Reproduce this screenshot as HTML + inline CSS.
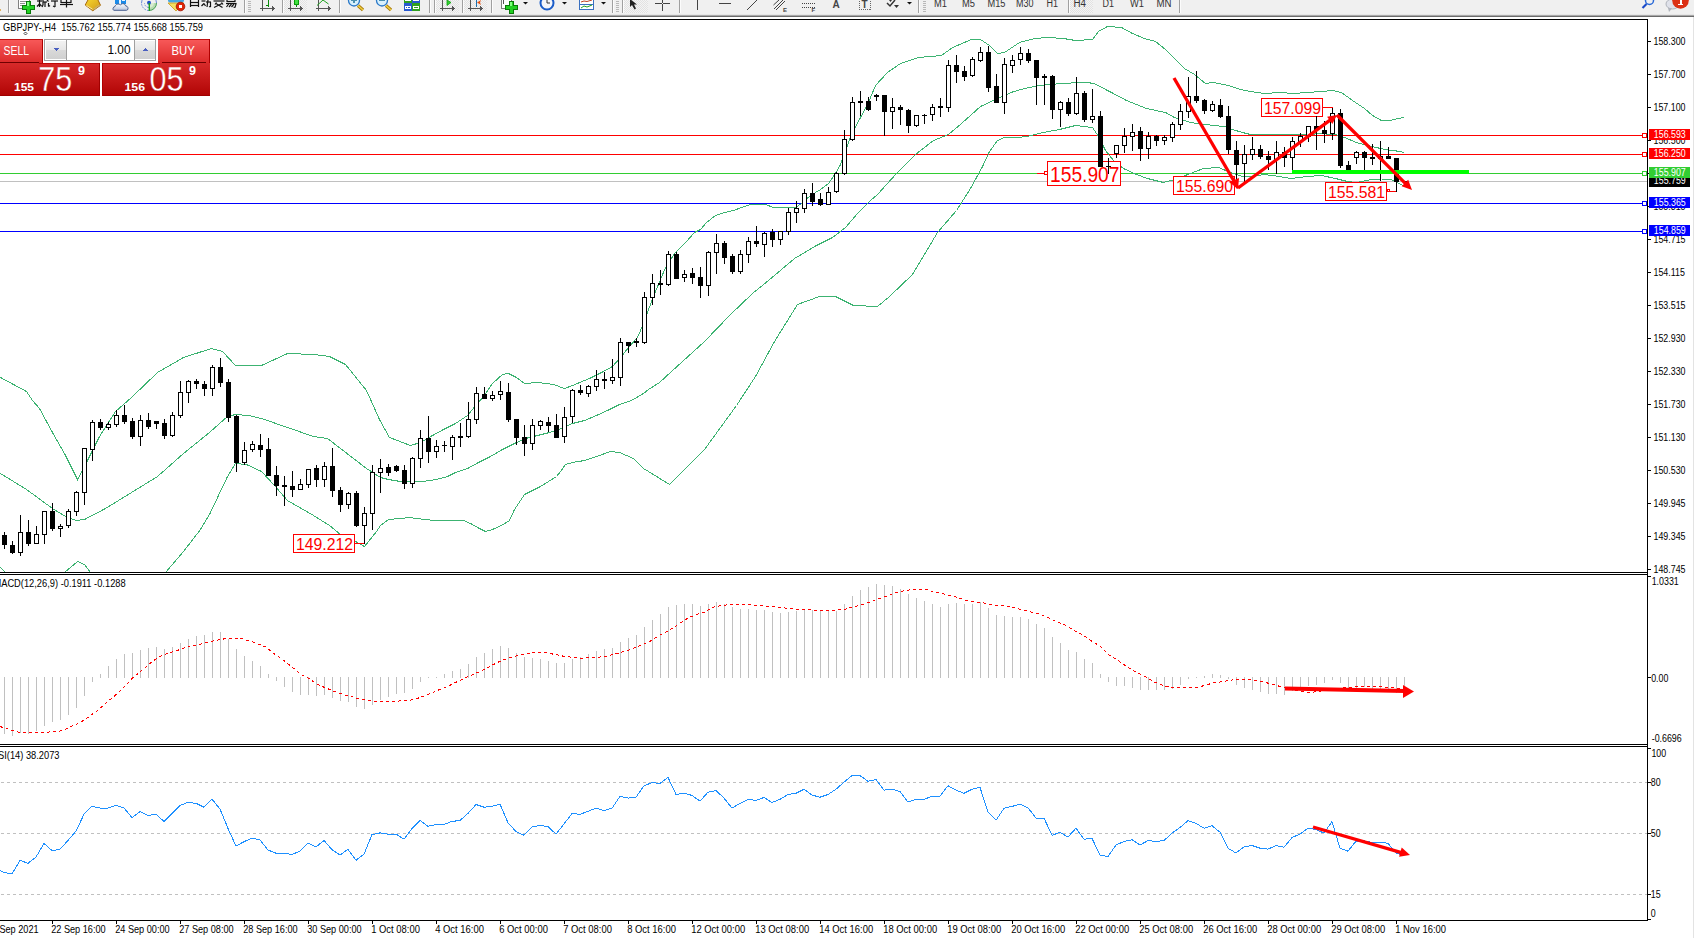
<!DOCTYPE html>
<html><head><meta charset="utf-8"><title>GBPJPY H4</title>
<style>
html,body{margin:0;padding:0;background:#fff;width:1694px;height:938px;overflow:hidden}
svg{position:absolute;left:0;top:0;font-family:"Liberation Sans",sans-serif}
</style></head><body>
<svg width="1694" height="938" viewBox="0 0 1694 938" shape-rendering="crispEdges">

<defs>
<linearGradient id="gTop" x1="0" y1="0" x2="0" y2="1"><stop offset="0" stop-color="#f85a5a"/><stop offset="1" stop-color="#dc2a2a"/></linearGradient>
<linearGradient id="gBot" x1="0" y1="0" x2="0" y2="1"><stop offset="0" stop-color="#d82a2a"/><stop offset="1" stop-color="#b00404"/></linearGradient>
<linearGradient id="gBtn" x1="0" y1="0" x2="0" y2="1"><stop offset="0" stop-color="#f2f2f2"/><stop offset="0.5" stop-color="#e6e6e6"/><stop offset="0.5" stop-color="#d9d9d9"/><stop offset="1" stop-color="#d0d0d0"/></linearGradient>
<linearGradient id="gBotU" gradientUnits="userSpaceOnUse" x1="0" y1="63" x2="0" y2="96"><stop offset="0" stop-color="#d82a2a"/><stop offset="1" stop-color="#b00404"/></linearGradient>
<clipPath id="mainclip"><rect x="0" y="20" width="1647" height="552"/></clipPath>
</defs>
<g>
<rect x="0" y="39" width="43" height="24" fill="url(#gTop)"/>
<rect x="42" y="39" width="1" height="24" fill="#b00000"/>
<rect x="0" y="39" width="43" height="1" fill="#c01010"/>
<rect x="0" y="62" width="39" height="1" fill="#700000"/>
<rect x="0" y="63" width="100" height="33" fill="url(#gBot)"/>
<rect x="39" y="63" width="61" height="1" fill="#c00808"/>
<rect x="0" y="95" width="100" height="1" fill="#a00000"/>
<rect x="99" y="63" width="1" height="33" fill="#a00000"/>
<rect x="158" y="39" width="52" height="24" fill="url(#gTop)"/>
<rect x="158" y="39" width="52" height="1" fill="#c01010"/>
<rect x="209" y="39" width="1" height="57" fill="#b00000"/>
<rect x="162" y="62" width="44" height="1" fill="#700000"/>
<rect x="102" y="63" width="108" height="33" fill="url(#gBot)"/>
<rect x="102" y="63" width="58" height="1" fill="#c00808"/>
<rect x="102" y="95" width="108" height="1" fill="#a00000"/>
<rect x="102" y="63" width="1" height="33" fill="#b00000"/>
<rect x="44.5" y="39.5" width="111" height="21" fill="#fff" stroke="#a0a0a0"/>
<rect x="46" y="41" width="20" height="18" fill="url(#gBtn)"/>
<rect x="66" y="40" width="1" height="20" fill="#a0a0a0"/>
<rect x="134" y="40" width="1" height="20" fill="#a0a0a0"/>
<rect x="135" y="41" width="20" height="18" fill="url(#gBtn)"/>
<polygon points="53,48 59,48 56,51" fill="#4a5fc0"/>
<polygon points="142,51 148,51 145,48" fill="#4a5fc0"/>
</g>
<text x="3.5" y="55" font-size="12.2" fill="#fff" textLength="25.50" lengthAdjust="spacingAndGlyphs">SELL</text><text x="171.5" y="55" font-size="12.2" fill="#fff" textLength="23.30" lengthAdjust="spacingAndGlyphs">BUY</text><text x="107.5" y="54" font-size="12" fill="#000" textLength="23.00" lengthAdjust="spacingAndGlyphs">1.00</text><text x="14" y="90.5" font-size="11.5" fill="#fff" font-weight="bold" textLength="20.00" lengthAdjust="spacingAndGlyphs">155</text><text x="124.5" y="90.5" font-size="11.5" fill="#fff" font-weight="bold" textLength="20.50" lengthAdjust="spacingAndGlyphs">156</text><text x="38.3" y="90.7" font-size="34.5" fill="#fff" textLength="34.00" lengthAdjust="spacingAndGlyphs" stroke="url(#gBotU)" stroke-width="0.38" shape-rendering="auto">75</text><text x="149.6" y="90.7" font-size="34.5" fill="#fff" textLength="34.00" lengthAdjust="spacingAndGlyphs" stroke="url(#gBotU)" stroke-width="0.38" shape-rendering="auto">05</text><text x="78" y="75" font-size="12" fill="#fff" font-weight="bold" textLength="7.00" lengthAdjust="spacingAndGlyphs">9</text><text x="189" y="75" font-size="12" fill="#fff" font-weight="bold" textLength="7.00" lengthAdjust="spacingAndGlyphs">9</text>
<rect x="0" y="135" width="1647" height="1" fill="#ff0000"/>
<rect x="0" y="154" width="1647" height="1" fill="#ff0000"/>
<rect x="0" y="173" width="1647" height="1" fill="#32cd32"/>
<rect x="0" y="181" width="1647" height="1" fill="#c0c0c0"/>
<rect x="0" y="203" width="1647" height="1" fill="#0000ff"/>
<rect x="0" y="231" width="1647" height="1" fill="#0000ff"/>
<rect x="1642.5" y="133.5" width="4" height="4" fill="#fff" stroke="#ff0000" stroke-width="1"/>
<rect x="1642.5" y="152.5" width="4" height="4" fill="#fff" stroke="#ff0000" stroke-width="1"/>
<rect x="1642.5" y="171.5" width="4" height="4" fill="#fff" stroke="#32cd32" stroke-width="1"/>
<rect x="1642.5" y="201.5" width="4" height="4" fill="#fff" stroke="#0000ff" stroke-width="1"/>
<rect x="1642.5" y="229.5" width="4" height="4" fill="#fff" stroke="#0000ff" stroke-width="1"/>
<g clip-path="url(#mainclip)">
<polyline points="0.5,377.5 26.5,391.5 32.5,400.5 39.5,408.5 52.5,432.5 65.5,455.5 77.5,479.5 84.5,466.5 99.5,436.5 115.5,411.5 131.5,397.5 157.5,372.5 183.5,357.5 211.5,348.5 222.5,351.5 235.5,365.5 261.5,365.5 287.5,353.5 313.5,354.5 329.5,356.5 345.5,364.5 366.5,390.5 379.5,419.5 389.5,437.5 410.5,445.5 420.5,442.5 432.5,435.5 443.5,429.5 455.5,423.5 467.5,415.5 476.5,404.5 483.5,396.5 492.5,383.5 502.5,374.5 508.5,373.5 516.5,377.5 524.5,383.5 537.5,382.5 553.5,384.5 564.5,388.5 572.5,385.5 589.5,378.5 603.5,371.5 612.5,366.5 620.5,357.5 628.5,347.5 637.5,337.5 643.5,323.5 648.5,309.5 655.5,291.5 665.5,267.5 674.5,253.5 685.5,242.5 694.5,232.5 700.5,229.5 706.5,222.5 715.5,215.5 724.5,212.5 733.5,210.5 741.5,207.5 750.5,204.5 765.5,204.5 773.5,207.5 783.5,207.5 795.5,207.5 801.5,203.5 810.5,195.5 820.5,189.5 828.5,183.5 835.5,173.5 840.5,164.5 851.5,134.5 868.5,102.5 875.5,85.5 887.5,72.5 900.5,63.5 918.5,57.5 941.5,55.5 952.5,47.5 971.5,39.5 980.5,39.5 989.5,45.5 997.5,53.5 1004.5,52.5 1019.5,42.5 1034.5,38.5 1048.5,37.5 1063.5,38.5 1075.5,40.5 1092.5,39.5 1098.5,31.5 1107.5,26.5 1121.5,27.5 1132.5,33.5 1144.5,38.5 1155.5,41.5 1165.5,49.5 1174.5,58.5 1184.5,68.5 1194.5,74.5 1205.5,83.5 1213.5,82.5 1228.5,85.5 1240.5,89.5 1250.5,91.5 1264.5,93.5 1279.5,92.5 1293.5,93.5 1307.5,92.5 1321.5,91.5 1332.5,90.5 1341.5,92.5 1352.5,100.5 1364.5,108.5 1372.5,115.5 1381.5,120.5 1389.5,120.5 1398.5,118.5 1404.5,117.5" fill="none" stroke="#3cb371" stroke-width="1"/>
<polyline points="0.5,473.5 26.5,489.5 52.5,508.5 65.5,516.5 76.5,520.5 84.5,519.5 105.5,508.5 131.5,492.5 157.5,476.5 183.5,453.5 209.5,432.5 227.5,416.5 235.5,414.5 248.5,415.5 261.5,418.5 287.5,427.5 313.5,436.5 327.5,438.5 340.5,448.5 366.5,468.5 380.5,477.5 388.5,479.5 400.5,481.5 409.5,481.5 422.5,481.5 436.5,479.5 447.5,476.5 455.5,472.5 467.5,468.5 478.5,462.5 490.5,456.5 502.5,449.5 514.5,443.5 525.5,438.5 537.5,435.5 549.5,432.5 561.5,428.5 572.5,423.5 584.5,420.5 596.5,415.5 607.5,410.5 619.5,404.5 631.5,400.5 643.5,393.5 648.5,389.5 659.5,382.5 682.5,361.5 704.5,341.5 730.5,314.5 752.5,293.5 768.5,280.5 794.5,258.5 816.5,245.5 832.5,237.5 845.5,227.5 857.5,213.5 870.5,200.5 877.5,194.5 896.5,173.5 915.5,154.5 933.5,140.5 948.5,134.5 961.5,123.5 980.5,106.5 999.5,97.5 1012.5,92 1024.5,88.5 1036,86.1 1047.5,84.5 1059.5,83.8 1077,82.6 1088.5,82.6 1094.5,83.8 1110.5,92 1126.5,100.5 1146.5,108.5 1165.5,112.5 1174.5,117.5 1190.5,122.5 1213.5,125.5 1224.5,126.5 1232.5,129.5 1242.5,132.5 1250.5,134.5 1264.5,134.5 1281.5,134.5 1300.5,134.5 1321.5,133.8 1335.5,134.5 1344.5,137.5 1356.5,142.5 1371.5,146.5 1385.5,149.5 1396.5,151 1404.5,152.5" fill="none" stroke="#3cb371" stroke-width="1"/>
<polyline points="0.5,567.5 5.5,572.5" fill="none" stroke="#3cb371" stroke-width="1"/>
<polyline points="64.5,572.5 77.5,561.5 84.5,564.5 90.5,572.5" fill="none" stroke="#3cb371" stroke-width="1"/>
<polyline points="165.5,572.5 183.5,551.5 200.5,529.5 209.5,514.5 227.5,476.5 235.5,463.5 246.5,464.5 261.5,471.5 274.5,485.5 287.5,500.5 313.5,515.5 329.5,525.5 340.5,534.5 355.5,541.5 364.5,546.5 376.5,531.5 380.5,525.5 388.5,519.5 400.5,518.5 409.5,517.5 416.5,518.5 425.5,519.5 434.5,520.5 463.5,520.5 470.5,523.5 479.5,528.5 485.5,531.5 492.5,529.5 501.5,525.5 509.5,520.5 514.5,509.5 524.5,494.5 540.5,486.5 548.5,481.5 556.5,476.5 560.5,471.5 565.5,464.5 572.5,462.5 584.5,460.5 596.5,456.5 610.5,451.5 619.5,452.5 633.5,458.5 643.5,468.5 648.5,471.5 669.5,484.5 704.5,449.5 736.5,405.5 755.5,376.5 774.5,341.5 797.5,304.5 819.5,296.5 835.5,296.5 853.5,305.5 877.5,306.5 889.5,296.5 912.5,274.5 937.5,232.5 956.5,210.5 970.5,188.5 982.5,166.5 989.5,151.5 997.5,140.5 1004.5,137.5 1017.5,137.5 1027.5,136.5 1038.5,133.5 1048.5,131.5 1059.5,129.5 1075.5,125.5 1092.5,127.5 1098.5,136.5 1105.5,150.5 1113.5,160.5 1123.5,168.5 1136.5,174.5 1147.5,178.5 1163.5,182.5 1174.5,179.5 1190.5,173.5 1203.5,168.5 1218.5,167.5 1230.5,172.5 1242.5,176.5 1250.5,176.5 1264.5,174.5 1279.5,176.5 1290.5,178.5 1307.5,176.5 1321.5,175.5 1335.5,178.5 1347.5,181.5 1356.5,182.5 1371.5,179.5 1381.5,179 1389.5,179 1393.5,180.5 1397.5,182.8 1401,184.5 1404.5,186" fill="none" stroke="#3cb371" stroke-width="1"/>
</g>
<rect x="1037" y="173" width="7" height="1" fill="#ff0000"/>
<rect x="1044.5" y="171.5" width="3" height="3" fill="#fff" stroke="#ff0000"/>
<rect x="1047.5" y="161.5" width="73" height="24" fill="#fff" stroke="#ff0000" stroke-width="1"/>
<text x="1050" y="182" font-size="22" fill="#ff0000" textLength="69.50" lengthAdjust="spacingAndGlyphs">155.907</text>
<rect x="293.5" y="534.5" width="61" height="18" fill="#fff" stroke="#ff0000" stroke-width="1"/>
<text x="296" y="550" font-size="17" fill="#ff0000" textLength="57.00" lengthAdjust="spacingAndGlyphs">149.212</text>
<rect x="355" y="543" width="9" height="1" fill="#ff0000"/>
<rect x="1261.5" y="98.5" width="61" height="18" fill="#fff" stroke="#ff0000" stroke-width="1"/>
<text x="1264" y="114" font-size="17" fill="#ff0000" textLength="57.00" lengthAdjust="spacingAndGlyphs">157.099</text>
<rect x="1323" y="107" width="10" height="1" fill="#ff0000"/>
<rect x="1332" y="107" width="1" height="2" fill="#ff0000"/>
<rect x="1173.5" y="176.5" width="61" height="18" fill="#fff" stroke="#ff0000" stroke-width="1"/>
<text x="1176" y="192" font-size="17" fill="#ff0000" textLength="57.00" lengthAdjust="spacingAndGlyphs">155.690</text>
<rect x="1325.5" y="182.5" width="61" height="18" fill="#fff" stroke="#ff0000" stroke-width="1"/>
<text x="1328" y="198" font-size="17" fill="#ff0000" textLength="57.00" lengthAdjust="spacingAndGlyphs">155.581</text>
<rect x="1387.5" y="189.5" width="2" height="2" fill="#fff" stroke="#ff0000"/>
<rect x="1390" y="191" width="7" height="1" fill="#ff0000"/>
<rect x="4" y="532" width="1" height="17" fill="#000"/>
<rect x="2" y="535" width="5" height="10" fill="#000"/>
<rect x="12" y="541" width="1" height="13" fill="#000"/>
<rect x="10" y="545" width="5" height="8" fill="#000"/>
<rect x="20" y="515" width="1" height="41" fill="#000"/>
<rect x="18" y="532" width="5" height="21" fill="#000"/>
<rect x="19" y="533" width="3" height="19" fill="#fff"/>
<rect x="28" y="520" width="1" height="26" fill="#000"/>
<rect x="26" y="532" width="5" height="12" fill="#000"/>
<rect x="36" y="526" width="1" height="18" fill="#000"/>
<rect x="34" y="534" width="5" height="10" fill="#000"/>
<rect x="35" y="535" width="3" height="8" fill="#fff"/>
<rect x="44" y="511" width="1" height="33" fill="#000"/>
<rect x="42" y="511" width="5" height="24" fill="#000"/>
<rect x="43" y="512" width="3" height="22" fill="#fff"/>
<rect x="52" y="503" width="1" height="28" fill="#000"/>
<rect x="50" y="511" width="5" height="18" fill="#000"/>
<rect x="60" y="524" width="1" height="13" fill="#000"/>
<rect x="58" y="526" width="5" height="3" fill="#000"/>
<rect x="59" y="527" width="3" height="1" fill="#fff"/>
<rect x="68" y="509" width="1" height="19" fill="#000"/>
<rect x="66" y="511" width="5" height="15" fill="#000"/>
<rect x="67" y="512" width="3" height="13" fill="#fff"/>
<rect x="76" y="491" width="1" height="25" fill="#000"/>
<rect x="74" y="492" width="5" height="20" fill="#000"/>
<rect x="75" y="493" width="3" height="18" fill="#fff"/>
<rect x="84" y="448" width="1" height="57" fill="#000"/>
<rect x="82" y="448" width="5" height="45" fill="#000"/>
<rect x="83" y="449" width="3" height="43" fill="#fff"/>
<rect x="92" y="420" width="1" height="41" fill="#000"/>
<rect x="90" y="422" width="5" height="28" fill="#000"/>
<rect x="91" y="423" width="3" height="26" fill="#fff"/>
<rect x="100" y="419" width="1" height="11" fill="#000"/>
<rect x="98" y="422" width="5" height="6" fill="#000"/>
<rect x="108" y="422" width="1" height="8" fill="#000"/>
<rect x="106" y="424" width="5" height="4" fill="#000"/>
<rect x="107" y="425" width="3" height="2" fill="#fff"/>
<rect x="116" y="410" width="1" height="17" fill="#000"/>
<rect x="114" y="415" width="5" height="10" fill="#000"/>
<rect x="115" y="416" width="3" height="8" fill="#fff"/>
<rect x="124" y="405" width="1" height="19" fill="#000"/>
<rect x="122" y="415" width="5" height="7" fill="#000"/>
<rect x="132" y="418" width="1" height="21" fill="#000"/>
<rect x="130" y="421" width="5" height="16" fill="#000"/>
<rect x="140" y="415" width="1" height="31" fill="#000"/>
<rect x="138" y="420" width="5" height="17" fill="#000"/>
<rect x="139" y="421" width="3" height="15" fill="#fff"/>
<rect x="148" y="413" width="1" height="16" fill="#000"/>
<rect x="146" y="420" width="5" height="7" fill="#000"/>
<rect x="156" y="421" width="1" height="8" fill="#000"/>
<rect x="154" y="421" width="5" height="3" fill="#000"/>
<rect x="164" y="419" width="1" height="20" fill="#000"/>
<rect x="162" y="423" width="5" height="13" fill="#000"/>
<rect x="172" y="412" width="1" height="25" fill="#000"/>
<rect x="170" y="415" width="5" height="21" fill="#000"/>
<rect x="171" y="416" width="3" height="19" fill="#fff"/>
<rect x="180" y="381" width="1" height="37" fill="#000"/>
<rect x="178" y="392" width="5" height="24" fill="#000"/>
<rect x="179" y="393" width="3" height="22" fill="#fff"/>
<rect x="188" y="380" width="1" height="23" fill="#000"/>
<rect x="186" y="381" width="5" height="12" fill="#000"/>
<rect x="187" y="382" width="3" height="10" fill="#fff"/>
<rect x="196" y="379" width="1" height="10" fill="#000"/>
<rect x="194" y="381" width="5" height="3" fill="#000"/>
<rect x="204" y="381" width="1" height="15" fill="#000"/>
<rect x="202" y="384" width="5" height="5" fill="#000"/>
<rect x="212" y="365" width="1" height="31" fill="#000"/>
<rect x="210" y="367" width="5" height="22" fill="#000"/>
<rect x="211" y="368" width="3" height="20" fill="#fff"/>
<rect x="220" y="358" width="1" height="29" fill="#000"/>
<rect x="218" y="367" width="5" height="16" fill="#000"/>
<rect x="228" y="379" width="1" height="43" fill="#000"/>
<rect x="226" y="382" width="5" height="36" fill="#000"/>
<rect x="236" y="415" width="1" height="57" fill="#000"/>
<rect x="234" y="416" width="5" height="47" fill="#000"/>
<rect x="244" y="442" width="1" height="23" fill="#000"/>
<rect x="242" y="450" width="5" height="13" fill="#000"/>
<rect x="243" y="451" width="3" height="11" fill="#fff"/>
<rect x="252" y="441" width="1" height="11" fill="#000"/>
<rect x="250" y="444" width="5" height="6" fill="#000"/>
<rect x="251" y="445" width="3" height="4" fill="#fff"/>
<rect x="260" y="434" width="1" height="23" fill="#000"/>
<rect x="258" y="445" width="5" height="5" fill="#000"/>
<rect x="268" y="438" width="1" height="38" fill="#000"/>
<rect x="266" y="449" width="5" height="27" fill="#000"/>
<rect x="276" y="466" width="1" height="30" fill="#000"/>
<rect x="274" y="475" width="5" height="11" fill="#000"/>
<rect x="284" y="476" width="1" height="30" fill="#000"/>
<rect x="282" y="485" width="5" height="2" fill="#000"/>
<rect x="292" y="471" width="1" height="26" fill="#000"/>
<rect x="290" y="486" width="5" height="4" fill="#000"/>
<rect x="300" y="479" width="1" height="11" fill="#000"/>
<rect x="298" y="484" width="5" height="6" fill="#000"/>
<rect x="299" y="485" width="3" height="4" fill="#fff"/>
<rect x="308" y="469" width="1" height="19" fill="#000"/>
<rect x="306" y="469" width="5" height="16" fill="#000"/>
<rect x="307" y="470" width="3" height="14" fill="#fff"/>
<rect x="316" y="465" width="1" height="22" fill="#000"/>
<rect x="314" y="468" width="5" height="12" fill="#000"/>
<rect x="324" y="462" width="1" height="25" fill="#000"/>
<rect x="322" y="466" width="5" height="14" fill="#000"/>
<rect x="323" y="467" width="3" height="12" fill="#fff"/>
<rect x="332" y="448" width="1" height="49" fill="#000"/>
<rect x="330" y="466" width="5" height="25" fill="#000"/>
<rect x="340" y="487" width="1" height="25" fill="#000"/>
<rect x="338" y="490" width="5" height="15" fill="#000"/>
<rect x="348" y="492" width="1" height="17" fill="#000"/>
<rect x="346" y="493" width="5" height="12" fill="#000"/>
<rect x="347" y="494" width="3" height="10" fill="#fff"/>
<rect x="356" y="491" width="1" height="36" fill="#000"/>
<rect x="354" y="493" width="5" height="33" fill="#000"/>
<rect x="364" y="507" width="1" height="37" fill="#000"/>
<rect x="362" y="513" width="5" height="13" fill="#000"/>
<rect x="363" y="514" width="3" height="11" fill="#fff"/>
<rect x="372" y="465" width="1" height="65" fill="#000"/>
<rect x="370" y="472" width="5" height="42" fill="#000"/>
<rect x="371" y="473" width="3" height="40" fill="#fff"/>
<rect x="380" y="459" width="1" height="34" fill="#000"/>
<rect x="378" y="468" width="5" height="5" fill="#000"/>
<rect x="379" y="469" width="3" height="3" fill="#fff"/>
<rect x="388" y="464" width="1" height="12" fill="#000"/>
<rect x="386" y="467" width="5" height="6" fill="#000"/>
<rect x="396" y="465" width="1" height="7" fill="#000"/>
<rect x="394" y="466" width="5" height="5" fill="#000"/>
<rect x="404" y="465" width="1" height="24" fill="#000"/>
<rect x="402" y="470" width="5" height="14" fill="#000"/>
<rect x="412" y="457" width="1" height="31" fill="#000"/>
<rect x="410" y="458" width="5" height="26" fill="#000"/>
<rect x="411" y="459" width="3" height="24" fill="#fff"/>
<rect x="420" y="430" width="1" height="38" fill="#000"/>
<rect x="418" y="438" width="5" height="21" fill="#000"/>
<rect x="419" y="439" width="3" height="19" fill="#fff"/>
<rect x="428" y="416" width="1" height="47" fill="#000"/>
<rect x="426" y="438" width="5" height="14" fill="#000"/>
<rect x="436" y="440" width="1" height="18" fill="#000"/>
<rect x="434" y="446" width="5" height="6" fill="#000"/>
<rect x="435" y="447" width="3" height="4" fill="#fff"/>
<rect x="444" y="441" width="1" height="11" fill="#000"/>
<rect x="442" y="445" width="5" height="1" fill="#000"/>
<rect x="452" y="435" width="1" height="25" fill="#000"/>
<rect x="450" y="437" width="5" height="10" fill="#000"/>
<rect x="451" y="438" width="3" height="8" fill="#fff"/>
<rect x="460" y="423" width="1" height="24" fill="#000"/>
<rect x="458" y="436" width="5" height="2" fill="#000"/>
<rect x="468" y="402" width="1" height="36" fill="#000"/>
<rect x="466" y="419" width="5" height="18" fill="#000"/>
<rect x="467" y="420" width="3" height="16" fill="#fff"/>
<rect x="476" y="387" width="1" height="37" fill="#000"/>
<rect x="474" y="393" width="5" height="27" fill="#000"/>
<rect x="475" y="394" width="3" height="25" fill="#fff"/>
<rect x="484" y="387" width="1" height="12" fill="#000"/>
<rect x="482" y="394" width="5" height="5" fill="#000"/>
<rect x="492" y="391" width="1" height="10" fill="#000"/>
<rect x="490" y="395" width="5" height="4" fill="#000"/>
<rect x="491" y="396" width="3" height="2" fill="#fff"/>
<rect x="500" y="381" width="1" height="19" fill="#000"/>
<rect x="498" y="391" width="5" height="4" fill="#000"/>
<rect x="499" y="392" width="3" height="2" fill="#fff"/>
<rect x="508" y="383" width="1" height="39" fill="#000"/>
<rect x="506" y="392" width="5" height="28" fill="#000"/>
<rect x="516" y="419" width="1" height="26" fill="#000"/>
<rect x="514" y="419" width="5" height="19" fill="#000"/>
<rect x="524" y="425" width="1" height="31" fill="#000"/>
<rect x="522" y="437" width="5" height="7" fill="#000"/>
<rect x="532" y="419" width="1" height="31" fill="#000"/>
<rect x="530" y="425" width="5" height="19" fill="#000"/>
<rect x="531" y="426" width="3" height="17" fill="#fff"/>
<rect x="540" y="420" width="1" height="10" fill="#000"/>
<rect x="538" y="421" width="5" height="5" fill="#000"/>
<rect x="539" y="422" width="3" height="3" fill="#fff"/>
<rect x="548" y="417" width="1" height="15" fill="#000"/>
<rect x="546" y="422" width="5" height="4" fill="#000"/>
<rect x="556" y="414" width="1" height="24" fill="#000"/>
<rect x="554" y="425" width="5" height="13" fill="#000"/>
<rect x="564" y="407" width="1" height="36" fill="#000"/>
<rect x="562" y="417" width="5" height="20" fill="#000"/>
<rect x="563" y="418" width="3" height="18" fill="#fff"/>
<rect x="572" y="389" width="1" height="34" fill="#000"/>
<rect x="570" y="390" width="5" height="27" fill="#000"/>
<rect x="571" y="391" width="3" height="25" fill="#fff"/>
<rect x="580" y="385" width="1" height="10" fill="#000"/>
<rect x="578" y="390" width="5" height="3" fill="#000"/>
<rect x="588" y="385" width="1" height="12" fill="#000"/>
<rect x="586" y="386" width="5" height="8" fill="#000"/>
<rect x="587" y="387" width="3" height="6" fill="#fff"/>
<rect x="596" y="370" width="1" height="21" fill="#000"/>
<rect x="594" y="379" width="5" height="8" fill="#000"/>
<rect x="595" y="380" width="3" height="6" fill="#fff"/>
<rect x="604" y="372" width="1" height="17" fill="#000"/>
<rect x="602" y="379" width="5" height="2" fill="#000"/>
<rect x="612" y="359" width="1" height="25" fill="#000"/>
<rect x="610" y="377" width="5" height="4" fill="#000"/>
<rect x="611" y="378" width="3" height="2" fill="#fff"/>
<rect x="620" y="338" width="1" height="48" fill="#000"/>
<rect x="618" y="342" width="5" height="36" fill="#000"/>
<rect x="619" y="343" width="3" height="34" fill="#fff"/>
<rect x="628" y="342" width="1" height="11" fill="#000"/>
<rect x="626" y="342" width="5" height="4" fill="#000"/>
<rect x="636" y="338" width="1" height="9" fill="#000"/>
<rect x="634" y="341" width="5" height="2" fill="#000"/>
<rect x="644" y="292" width="1" height="52" fill="#000"/>
<rect x="642" y="297" width="5" height="46" fill="#000"/>
<rect x="643" y="298" width="3" height="44" fill="#fff"/>
<rect x="652" y="274" width="1" height="31" fill="#000"/>
<rect x="650" y="283" width="5" height="15" fill="#000"/>
<rect x="651" y="284" width="3" height="13" fill="#fff"/>
<rect x="660" y="270" width="1" height="25" fill="#000"/>
<rect x="658" y="283" width="5" height="2" fill="#000"/>
<rect x="668" y="251" width="1" height="35" fill="#000"/>
<rect x="666" y="254" width="5" height="31" fill="#000"/>
<rect x="667" y="255" width="3" height="29" fill="#fff"/>
<rect x="676" y="252" width="1" height="27" fill="#000"/>
<rect x="674" y="254" width="5" height="25" fill="#000"/>
<rect x="684" y="270" width="1" height="12" fill="#000"/>
<rect x="682" y="274" width="5" height="4" fill="#000"/>
<rect x="683" y="275" width="3" height="2" fill="#fff"/>
<rect x="692" y="268" width="1" height="16" fill="#000"/>
<rect x="690" y="273" width="5" height="5" fill="#000"/>
<rect x="700" y="267" width="1" height="31" fill="#000"/>
<rect x="698" y="277" width="5" height="9" fill="#000"/>
<rect x="708" y="251" width="1" height="45" fill="#000"/>
<rect x="706" y="252" width="5" height="34" fill="#000"/>
<rect x="707" y="253" width="3" height="32" fill="#fff"/>
<rect x="716" y="234" width="1" height="40" fill="#000"/>
<rect x="714" y="243" width="5" height="10" fill="#000"/>
<rect x="715" y="244" width="3" height="8" fill="#fff"/>
<rect x="724" y="241" width="1" height="23" fill="#000"/>
<rect x="722" y="243" width="5" height="15" fill="#000"/>
<rect x="732" y="254" width="1" height="20" fill="#000"/>
<rect x="730" y="256" width="5" height="16" fill="#000"/>
<rect x="740" y="250" width="1" height="24" fill="#000"/>
<rect x="738" y="254" width="5" height="18" fill="#000"/>
<rect x="739" y="255" width="3" height="16" fill="#fff"/>
<rect x="748" y="237" width="1" height="26" fill="#000"/>
<rect x="746" y="241" width="5" height="14" fill="#000"/>
<rect x="747" y="242" width="3" height="12" fill="#fff"/>
<rect x="756" y="226" width="1" height="21" fill="#000"/>
<rect x="754" y="241" width="5" height="3" fill="#000"/>
<rect x="764" y="232" width="1" height="25" fill="#000"/>
<rect x="762" y="233" width="5" height="12" fill="#000"/>
<rect x="763" y="234" width="3" height="10" fill="#fff"/>
<rect x="772" y="229" width="1" height="18" fill="#000"/>
<rect x="770" y="232" width="5" height="8" fill="#000"/>
<rect x="780" y="231" width="1" height="14" fill="#000"/>
<rect x="778" y="231" width="5" height="9" fill="#000"/>
<rect x="779" y="232" width="3" height="7" fill="#fff"/>
<rect x="788" y="208" width="1" height="27" fill="#000"/>
<rect x="786" y="212" width="5" height="20" fill="#000"/>
<rect x="787" y="213" width="3" height="18" fill="#fff"/>
<rect x="796" y="201" width="1" height="22" fill="#000"/>
<rect x="794" y="208" width="5" height="5" fill="#000"/>
<rect x="795" y="209" width="3" height="3" fill="#fff"/>
<rect x="804" y="189" width="1" height="24" fill="#000"/>
<rect x="802" y="193" width="5" height="16" fill="#000"/>
<rect x="803" y="194" width="3" height="14" fill="#fff"/>
<rect x="812" y="183" width="1" height="23" fill="#000"/>
<rect x="810" y="193" width="5" height="9" fill="#000"/>
<rect x="820" y="193" width="1" height="13" fill="#000"/>
<rect x="818" y="199" width="5" height="6" fill="#000"/>
<rect x="828" y="187" width="1" height="18" fill="#000"/>
<rect x="826" y="192" width="5" height="13" fill="#000"/>
<rect x="827" y="193" width="3" height="11" fill="#fff"/>
<rect x="836" y="172" width="1" height="21" fill="#000"/>
<rect x="834" y="173" width="5" height="19" fill="#000"/>
<rect x="835" y="174" width="3" height="17" fill="#fff"/>
<rect x="844" y="130" width="1" height="45" fill="#000"/>
<rect x="842" y="139" width="5" height="35" fill="#000"/>
<rect x="843" y="140" width="3" height="33" fill="#fff"/>
<rect x="852" y="97" width="1" height="44" fill="#000"/>
<rect x="850" y="102" width="5" height="38" fill="#000"/>
<rect x="851" y="103" width="3" height="36" fill="#fff"/>
<rect x="860" y="91" width="1" height="25" fill="#000"/>
<rect x="858" y="101" width="5" height="2" fill="#000"/>
<rect x="868" y="97" width="1" height="14" fill="#000"/>
<rect x="866" y="101" width="5" height="9" fill="#000"/>
<rect x="876" y="94" width="1" height="7" fill="#000"/>
<rect x="874" y="95" width="5" height="2" fill="#000"/>
<rect x="884" y="95" width="1" height="41" fill="#000"/>
<rect x="882" y="95" width="5" height="17" fill="#000"/>
<rect x="892" y="98" width="1" height="31" fill="#000"/>
<rect x="890" y="107" width="5" height="5" fill="#000"/>
<rect x="891" y="108" width="3" height="3" fill="#fff"/>
<rect x="900" y="105" width="1" height="20" fill="#000"/>
<rect x="898" y="107" width="5" height="3" fill="#000"/>
<rect x="908" y="109" width="1" height="24" fill="#000"/>
<rect x="906" y="110" width="5" height="16" fill="#000"/>
<rect x="916" y="115" width="1" height="12" fill="#000"/>
<rect x="914" y="115" width="5" height="11" fill="#000"/>
<rect x="915" y="116" width="3" height="9" fill="#fff"/>
<rect x="924" y="114" width="1" height="10" fill="#000"/>
<rect x="922" y="115" width="5" height="1" fill="#000"/>
<rect x="932" y="104" width="1" height="17" fill="#000"/>
<rect x="930" y="107" width="5" height="8" fill="#000"/>
<rect x="931" y="108" width="3" height="6" fill="#fff"/>
<rect x="940" y="98" width="1" height="19" fill="#000"/>
<rect x="938" y="106" width="5" height="2" fill="#000"/>
<rect x="948" y="60" width="1" height="52" fill="#000"/>
<rect x="946" y="65" width="5" height="43" fill="#000"/>
<rect x="947" y="66" width="3" height="41" fill="#fff"/>
<rect x="956" y="55" width="1" height="28" fill="#000"/>
<rect x="954" y="65" width="5" height="7" fill="#000"/>
<rect x="964" y="66" width="1" height="15" fill="#000"/>
<rect x="962" y="71" width="5" height="6" fill="#000"/>
<rect x="972" y="57" width="1" height="20" fill="#000"/>
<rect x="970" y="59" width="5" height="17" fill="#000"/>
<rect x="971" y="60" width="3" height="15" fill="#fff"/>
<rect x="980" y="47" width="1" height="15" fill="#000"/>
<rect x="978" y="52" width="5" height="9" fill="#000"/>
<rect x="979" y="53" width="3" height="7" fill="#fff"/>
<rect x="988" y="46" width="1" height="46" fill="#000"/>
<rect x="986" y="52" width="5" height="36" fill="#000"/>
<rect x="996" y="74" width="1" height="29" fill="#000"/>
<rect x="994" y="86" width="5" height="17" fill="#000"/>
<rect x="1004" y="58" width="1" height="56" fill="#000"/>
<rect x="1002" y="64" width="5" height="39" fill="#000"/>
<rect x="1003" y="65" width="3" height="37" fill="#fff"/>
<rect x="1012" y="55" width="1" height="18" fill="#000"/>
<rect x="1010" y="60" width="5" height="6" fill="#000"/>
<rect x="1011" y="61" width="3" height="4" fill="#fff"/>
<rect x="1020" y="47" width="1" height="18" fill="#000"/>
<rect x="1018" y="53" width="5" height="7" fill="#000"/>
<rect x="1019" y="54" width="3" height="5" fill="#fff"/>
<rect x="1028" y="49" width="1" height="14" fill="#000"/>
<rect x="1026" y="53" width="5" height="8" fill="#000"/>
<rect x="1036" y="60" width="1" height="45" fill="#000"/>
<rect x="1034" y="60" width="5" height="18" fill="#000"/>
<rect x="1044" y="74" width="1" height="31" fill="#000"/>
<rect x="1042" y="76" width="5" height="2" fill="#000"/>
<rect x="1052" y="75" width="1" height="44" fill="#000"/>
<rect x="1050" y="76" width="5" height="34" fill="#000"/>
<rect x="1060" y="101" width="1" height="26" fill="#000"/>
<rect x="1058" y="102" width="5" height="8" fill="#000"/>
<rect x="1059" y="103" width="3" height="6" fill="#fff"/>
<rect x="1068" y="98" width="1" height="18" fill="#000"/>
<rect x="1066" y="102" width="5" height="12" fill="#000"/>
<rect x="1076" y="77" width="1" height="38" fill="#000"/>
<rect x="1074" y="93" width="5" height="21" fill="#000"/>
<rect x="1075" y="94" width="3" height="19" fill="#fff"/>
<rect x="1084" y="91" width="1" height="31" fill="#000"/>
<rect x="1082" y="93" width="5" height="27" fill="#000"/>
<rect x="1092" y="89" width="1" height="34" fill="#000"/>
<rect x="1090" y="116" width="5" height="4" fill="#000"/>
<rect x="1091" y="117" width="3" height="2" fill="#fff"/>
<rect x="1100" y="111" width="1" height="56" fill="#000"/>
<rect x="1098" y="116" width="5" height="51" fill="#000"/>
<rect x="1108" y="158" width="1" height="16" fill="#000"/>
<rect x="1106" y="166" width="5" height="1" fill="#000"/>
<rect x="1116" y="145" width="1" height="13" fill="#000"/>
<rect x="1114" y="145" width="5" height="9" fill="#000"/>
<rect x="1115" y="146" width="3" height="7" fill="#fff"/>
<rect x="1124" y="128" width="1" height="25" fill="#000"/>
<rect x="1122" y="136" width="5" height="10" fill="#000"/>
<rect x="1123" y="137" width="3" height="8" fill="#fff"/>
<rect x="1132" y="124" width="1" height="27" fill="#000"/>
<rect x="1130" y="132" width="5" height="5" fill="#000"/>
<rect x="1131" y="133" width="3" height="3" fill="#fff"/>
<rect x="1140" y="127" width="1" height="34" fill="#000"/>
<rect x="1138" y="131" width="5" height="18" fill="#000"/>
<rect x="1148" y="132" width="1" height="27" fill="#000"/>
<rect x="1146" y="136" width="5" height="13" fill="#000"/>
<rect x="1147" y="137" width="3" height="11" fill="#fff"/>
<rect x="1156" y="135" width="1" height="11" fill="#000"/>
<rect x="1154" y="136" width="5" height="5" fill="#000"/>
<rect x="1164" y="135" width="1" height="10" fill="#000"/>
<rect x="1162" y="137" width="5" height="4" fill="#000"/>
<rect x="1163" y="138" width="3" height="2" fill="#fff"/>
<rect x="1172" y="122" width="1" height="20" fill="#000"/>
<rect x="1170" y="124" width="5" height="14" fill="#000"/>
<rect x="1171" y="125" width="3" height="12" fill="#fff"/>
<rect x="1180" y="104" width="1" height="26" fill="#000"/>
<rect x="1178" y="111" width="5" height="14" fill="#000"/>
<rect x="1179" y="112" width="3" height="12" fill="#fff"/>
<rect x="1188" y="77" width="1" height="41" fill="#000"/>
<rect x="1186" y="96" width="5" height="16" fill="#000"/>
<rect x="1187" y="97" width="3" height="14" fill="#fff"/>
<rect x="1196" y="71" width="1" height="32" fill="#000"/>
<rect x="1194" y="96" width="5" height="5" fill="#000"/>
<rect x="1204" y="99" width="1" height="15" fill="#000"/>
<rect x="1202" y="100" width="5" height="11" fill="#000"/>
<rect x="1212" y="101" width="1" height="11" fill="#000"/>
<rect x="1210" y="104" width="5" height="7" fill="#000"/>
<rect x="1211" y="105" width="3" height="5" fill="#fff"/>
<rect x="1220" y="99" width="1" height="19" fill="#000"/>
<rect x="1218" y="105" width="5" height="12" fill="#000"/>
<rect x="1228" y="106" width="1" height="48" fill="#000"/>
<rect x="1226" y="116" width="5" height="34" fill="#000"/>
<rect x="1236" y="141" width="1" height="45" fill="#000"/>
<rect x="1234" y="150" width="5" height="15" fill="#000"/>
<rect x="1244" y="145" width="1" height="37" fill="#000"/>
<rect x="1242" y="154" width="5" height="10" fill="#000"/>
<rect x="1243" y="155" width="3" height="8" fill="#fff"/>
<rect x="1252" y="137" width="1" height="23" fill="#000"/>
<rect x="1250" y="149" width="5" height="6" fill="#000"/>
<rect x="1251" y="150" width="3" height="4" fill="#fff"/>
<rect x="1260" y="145" width="1" height="14" fill="#000"/>
<rect x="1258" y="149" width="5" height="8" fill="#000"/>
<rect x="1268" y="151" width="1" height="19" fill="#000"/>
<rect x="1266" y="156" width="5" height="4" fill="#000"/>
<rect x="1276" y="141" width="1" height="33" fill="#000"/>
<rect x="1274" y="152" width="5" height="8" fill="#000"/>
<rect x="1275" y="153" width="3" height="6" fill="#fff"/>
<rect x="1284" y="147" width="1" height="20" fill="#000"/>
<rect x="1282" y="152" width="5" height="6" fill="#000"/>
<rect x="1292" y="137" width="1" height="33" fill="#000"/>
<rect x="1290" y="141" width="5" height="17" fill="#000"/>
<rect x="1291" y="142" width="3" height="15" fill="#fff"/>
<rect x="1300" y="133" width="1" height="14" fill="#000"/>
<rect x="1298" y="136" width="5" height="6" fill="#000"/>
<rect x="1299" y="137" width="3" height="4" fill="#fff"/>
<rect x="1308" y="126" width="1" height="16" fill="#000"/>
<rect x="1306" y="126" width="5" height="11" fill="#000"/>
<rect x="1307" y="127" width="3" height="9" fill="#fff"/>
<rect x="1316" y="116" width="1" height="34" fill="#000"/>
<rect x="1314" y="126" width="5" height="4" fill="#000"/>
<rect x="1324" y="121" width="1" height="22" fill="#000"/>
<rect x="1322" y="130" width="5" height="4" fill="#000"/>
<rect x="1332" y="108" width="1" height="32" fill="#000"/>
<rect x="1330" y="113" width="5" height="21" fill="#000"/>
<rect x="1331" y="114" width="3" height="19" fill="#fff"/>
<rect x="1340" y="109" width="1" height="59" fill="#000"/>
<rect x="1338" y="113" width="5" height="53" fill="#000"/>
<rect x="1348" y="161" width="1" height="9" fill="#000"/>
<rect x="1346" y="165" width="5" height="5" fill="#000"/>
<rect x="1356" y="151" width="1" height="13" fill="#000"/>
<rect x="1354" y="152" width="5" height="6" fill="#000"/>
<rect x="1355" y="153" width="3" height="4" fill="#fff"/>
<rect x="1364" y="151" width="1" height="19" fill="#000"/>
<rect x="1362" y="152" width="5" height="6" fill="#000"/>
<rect x="1372" y="144" width="1" height="21" fill="#000"/>
<rect x="1370" y="157" width="5" height="2" fill="#000"/>
<rect x="1380" y="141" width="1" height="40" fill="#000"/>
<rect x="1378" y="156" width="5" height="3" fill="#000"/>
<rect x="1379" y="157" width="3" height="1" fill="#fff"/>
<rect x="1388" y="147" width="1" height="12" fill="#000"/>
<rect x="1386" y="156" width="5" height="3" fill="#000"/>
<rect x="1396" y="158" width="1" height="34" fill="#000"/>
<rect x="1394" y="158" width="5" height="24" fill="#000"/>
<rect x="1404" y="181" width="1" height="6" fill="#000"/>
<rect x="1402" y="181" width="5" height="1" fill="#000"/>
<rect x="1292" y="170" width="177" height="4" fill="#00ff00"/>
<g shape-rendering="auto">
<line x1="1174" y1="78" x2="1238" y2="188" stroke="#ff0000" stroke-width="3.3"/>
<polygon points="1238,189 1229,182 1239,178" fill="#ff0000"/>
<line x1="1238" y1="188" x2="1331.4" y2="119.2" stroke="#ff0000" stroke-width="3.3"/><polygon points="1337,115 1332.4,124.0 1327.1,116.7" fill="#ff0000"/>
<line x1="1337" y1="115" x2="1406.3" y2="184.3" stroke="#ff0000" stroke-width="3.3"/><polygon points="1412,190 1401.7,186.2 1408.2,179.7" fill="#ff0000"/>
</g>
<g>
<rect x="4" y="677" width="1" height="57" fill="#c0c0c0"/>
<rect x="12" y="677" width="1" height="59" fill="#c0c0c0"/>
<rect x="20" y="677" width="1" height="56" fill="#c0c0c0"/>
<rect x="28" y="677" width="1" height="57" fill="#c0c0c0"/>
<rect x="36" y="677" width="1" height="54" fill="#c0c0c0"/>
<rect x="44" y="677" width="1" height="49" fill="#c0c0c0"/>
<rect x="52" y="677" width="1" height="45" fill="#c0c0c0"/>
<rect x="60" y="677" width="1" height="43" fill="#c0c0c0"/>
<rect x="68" y="677" width="1" height="38" fill="#c0c0c0"/>
<rect x="76" y="677" width="1" height="31" fill="#c0c0c0"/>
<rect x="84" y="677" width="1" height="19" fill="#c0c0c0"/>
<rect x="92" y="677" width="1" height="5" fill="#c0c0c0"/>
<rect x="100" y="674" width="1" height="4" fill="#c0c0c0"/>
<rect x="108" y="666" width="1" height="12" fill="#c0c0c0"/>
<rect x="116" y="659" width="1" height="19" fill="#c0c0c0"/>
<rect x="124" y="654" width="1" height="24" fill="#c0c0c0"/>
<rect x="132" y="653" width="1" height="25" fill="#c0c0c0"/>
<rect x="140" y="650" width="1" height="28" fill="#c0c0c0"/>
<rect x="148" y="648" width="1" height="30" fill="#c0c0c0"/>
<rect x="156" y="647" width="1" height="31" fill="#c0c0c0"/>
<rect x="164" y="649" width="1" height="29" fill="#c0c0c0"/>
<rect x="172" y="647" width="1" height="31" fill="#c0c0c0"/>
<rect x="180" y="643" width="1" height="35" fill="#c0c0c0"/>
<rect x="188" y="639" width="1" height="39" fill="#c0c0c0"/>
<rect x="196" y="636" width="1" height="42" fill="#c0c0c0"/>
<rect x="204" y="635" width="1" height="43" fill="#c0c0c0"/>
<rect x="212" y="632" width="1" height="46" fill="#c0c0c0"/>
<rect x="220" y="632" width="1" height="46" fill="#c0c0c0"/>
<rect x="228" y="639" width="1" height="39" fill="#c0c0c0"/>
<rect x="236" y="649" width="1" height="29" fill="#c0c0c0"/>
<rect x="244" y="656" width="1" height="22" fill="#c0c0c0"/>
<rect x="252" y="661" width="1" height="17" fill="#c0c0c0"/>
<rect x="260" y="666" width="1" height="12" fill="#c0c0c0"/>
<rect x="268" y="674" width="1" height="4" fill="#c0c0c0"/>
<rect x="276" y="677" width="1" height="4" fill="#c0c0c0"/>
<rect x="284" y="677" width="1" height="10" fill="#c0c0c0"/>
<rect x="292" y="677" width="1" height="15" fill="#c0c0c0"/>
<rect x="300" y="677" width="1" height="18" fill="#c0c0c0"/>
<rect x="308" y="677" width="1" height="18" fill="#c0c0c0"/>
<rect x="316" y="677" width="1" height="19" fill="#c0c0c0"/>
<rect x="324" y="677" width="1" height="18" fill="#c0c0c0"/>
<rect x="332" y="677" width="1" height="21" fill="#c0c0c0"/>
<rect x="340" y="677" width="1" height="24" fill="#c0c0c0"/>
<rect x="348" y="677" width="1" height="25" fill="#c0c0c0"/>
<rect x="356" y="677" width="1" height="30" fill="#c0c0c0"/>
<rect x="364" y="677" width="1" height="32" fill="#c0c0c0"/>
<rect x="372" y="677" width="1" height="28" fill="#c0c0c0"/>
<rect x="380" y="677" width="1" height="23" fill="#c0c0c0"/>
<rect x="388" y="677" width="1" height="20" fill="#c0c0c0"/>
<rect x="396" y="677" width="1" height="17" fill="#c0c0c0"/>
<rect x="404" y="677" width="1" height="16" fill="#c0c0c0"/>
<rect x="412" y="677" width="1" height="12" fill="#c0c0c0"/>
<rect x="420" y="677" width="1" height="5" fill="#c0c0c0"/>
<rect x="428" y="677" width="1" height="1" fill="#c0c0c0"/>
<rect x="436" y="677" width="1" height="1" fill="#c0c0c0"/>
<rect x="444" y="674" width="1" height="4" fill="#c0c0c0"/>
<rect x="452" y="671" width="1" height="7" fill="#c0c0c0"/>
<rect x="460" y="669" width="1" height="9" fill="#c0c0c0"/>
<rect x="468" y="664" width="1" height="14" fill="#c0c0c0"/>
<rect x="476" y="657" width="1" height="21" fill="#c0c0c0"/>
<rect x="484" y="653" width="1" height="25" fill="#c0c0c0"/>
<rect x="492" y="649" width="1" height="29" fill="#c0c0c0"/>
<rect x="500" y="646" width="1" height="32" fill="#c0c0c0"/>
<rect x="508" y="648" width="1" height="30" fill="#c0c0c0"/>
<rect x="516" y="653" width="1" height="25" fill="#c0c0c0"/>
<rect x="524" y="657" width="1" height="21" fill="#c0c0c0"/>
<rect x="532" y="658" width="1" height="20" fill="#c0c0c0"/>
<rect x="540" y="659" width="1" height="19" fill="#c0c0c0"/>
<rect x="548" y="661" width="1" height="17" fill="#c0c0c0"/>
<rect x="556" y="663" width="1" height="15" fill="#c0c0c0"/>
<rect x="564" y="663" width="1" height="15" fill="#c0c0c0"/>
<rect x="572" y="659" width="1" height="19" fill="#c0c0c0"/>
<rect x="580" y="657" width="1" height="21" fill="#c0c0c0"/>
<rect x="588" y="654" width="1" height="24" fill="#c0c0c0"/>
<rect x="596" y="651" width="1" height="27" fill="#c0c0c0"/>
<rect x="604" y="649" width="1" height="29" fill="#c0c0c0"/>
<rect x="612" y="648" width="1" height="30" fill="#c0c0c0"/>
<rect x="620" y="642" width="1" height="36" fill="#c0c0c0"/>
<rect x="628" y="638" width="1" height="40" fill="#c0c0c0"/>
<rect x="636" y="635" width="1" height="43" fill="#c0c0c0"/>
<rect x="644" y="627" width="1" height="51" fill="#c0c0c0"/>
<rect x="652" y="620" width="1" height="58" fill="#c0c0c0"/>
<rect x="660" y="614" width="1" height="64" fill="#c0c0c0"/>
<rect x="668" y="607" width="1" height="71" fill="#c0c0c0"/>
<rect x="676" y="605" width="1" height="73" fill="#c0c0c0"/>
<rect x="684" y="604" width="1" height="74" fill="#c0c0c0"/>
<rect x="692" y="604" width="1" height="74" fill="#c0c0c0"/>
<rect x="700" y="606" width="1" height="72" fill="#c0c0c0"/>
<rect x="708" y="604" width="1" height="74" fill="#c0c0c0"/>
<rect x="716" y="602" width="1" height="76" fill="#c0c0c0"/>
<rect x="724" y="604" width="1" height="74" fill="#c0c0c0"/>
<rect x="732" y="607" width="1" height="71" fill="#c0c0c0"/>
<rect x="740" y="609" width="1" height="69" fill="#c0c0c0"/>
<rect x="748" y="609" width="1" height="69" fill="#c0c0c0"/>
<rect x="756" y="610" width="1" height="68" fill="#c0c0c0"/>
<rect x="764" y="610" width="1" height="68" fill="#c0c0c0"/>
<rect x="772" y="612" width="1" height="66" fill="#c0c0c0"/>
<rect x="780" y="613" width="1" height="65" fill="#c0c0c0"/>
<rect x="788" y="612" width="1" height="66" fill="#c0c0c0"/>
<rect x="796" y="611" width="1" height="67" fill="#c0c0c0"/>
<rect x="804" y="610" width="1" height="68" fill="#c0c0c0"/>
<rect x="812" y="610" width="1" height="68" fill="#c0c0c0"/>
<rect x="820" y="611" width="1" height="67" fill="#c0c0c0"/>
<rect x="828" y="611" width="1" height="67" fill="#c0c0c0"/>
<rect x="836" y="611" width="1" height="67" fill="#c0c0c0"/>
<rect x="844" y="604" width="1" height="74" fill="#c0c0c0"/>
<rect x="852" y="596" width="1" height="82" fill="#c0c0c0"/>
<rect x="860" y="590" width="1" height="88" fill="#c0c0c0"/>
<rect x="868" y="587" width="1" height="91" fill="#c0c0c0"/>
<rect x="876" y="584" width="1" height="94" fill="#c0c0c0"/>
<rect x="884" y="585" width="1" height="93" fill="#c0c0c0"/>
<rect x="892" y="586" width="1" height="92" fill="#c0c0c0"/>
<rect x="900" y="589" width="1" height="89" fill="#c0c0c0"/>
<rect x="908" y="594" width="1" height="84" fill="#c0c0c0"/>
<rect x="916" y="598" width="1" height="80" fill="#c0c0c0"/>
<rect x="924" y="601" width="1" height="77" fill="#c0c0c0"/>
<rect x="932" y="604" width="1" height="74" fill="#c0c0c0"/>
<rect x="940" y="607" width="1" height="71" fill="#c0c0c0"/>
<rect x="948" y="604" width="1" height="74" fill="#c0c0c0"/>
<rect x="956" y="603" width="1" height="75" fill="#c0c0c0"/>
<rect x="964" y="604" width="1" height="74" fill="#c0c0c0"/>
<rect x="972" y="604" width="1" height="74" fill="#c0c0c0"/>
<rect x="980" y="602" width="1" height="76" fill="#c0c0c0"/>
<rect x="988" y="608" width="1" height="70" fill="#c0c0c0"/>
<rect x="996" y="615" width="1" height="63" fill="#c0c0c0"/>
<rect x="1004" y="616" width="1" height="62" fill="#c0c0c0"/>
<rect x="1012" y="617" width="1" height="61" fill="#c0c0c0"/>
<rect x="1020" y="617" width="1" height="61" fill="#c0c0c0"/>
<rect x="1028" y="619" width="1" height="59" fill="#c0c0c0"/>
<rect x="1036" y="624" width="1" height="54" fill="#c0c0c0"/>
<rect x="1044" y="628" width="1" height="50" fill="#c0c0c0"/>
<rect x="1052" y="637" width="1" height="41" fill="#c0c0c0"/>
<rect x="1060" y="643" width="1" height="35" fill="#c0c0c0"/>
<rect x="1068" y="650" width="1" height="28" fill="#c0c0c0"/>
<rect x="1076" y="652" width="1" height="26" fill="#c0c0c0"/>
<rect x="1084" y="659" width="1" height="19" fill="#c0c0c0"/>
<rect x="1092" y="663" width="1" height="15" fill="#c0c0c0"/>
<rect x="1100" y="674" width="1" height="4" fill="#c0c0c0"/>
<rect x="1108" y="677" width="1" height="5" fill="#c0c0c0"/>
<rect x="1116" y="677" width="1" height="9" fill="#c0c0c0"/>
<rect x="1124" y="677" width="1" height="9" fill="#c0c0c0"/>
<rect x="1132" y="677" width="1" height="11" fill="#c0c0c0"/>
<rect x="1140" y="677" width="1" height="13" fill="#c0c0c0"/>
<rect x="1148" y="677" width="1" height="13" fill="#c0c0c0"/>
<rect x="1156" y="677" width="1" height="13" fill="#c0c0c0"/>
<rect x="1164" y="677" width="1" height="13" fill="#c0c0c0"/>
<rect x="1172" y="677" width="1" height="12" fill="#c0c0c0"/>
<rect x="1180" y="677" width="1" height="8" fill="#c0c0c0"/>
<rect x="1188" y="677" width="1" height="2" fill="#c0c0c0"/>
<rect x="1196" y="677" width="1" height="1" fill="#c0c0c0"/>
<rect x="1204" y="676" width="1" height="2" fill="#c0c0c0"/>
<rect x="1212" y="674" width="1" height="4" fill="#c0c0c0"/>
<rect x="1220" y="675" width="1" height="3" fill="#c0c0c0"/>
<rect x="1228" y="677" width="1" height="2" fill="#c0c0c0"/>
<rect x="1236" y="677" width="1" height="8" fill="#c0c0c0"/>
<rect x="1244" y="677" width="1" height="11" fill="#c0c0c0"/>
<rect x="1252" y="677" width="1" height="13" fill="#c0c0c0"/>
<rect x="1260" y="677" width="1" height="15" fill="#c0c0c0"/>
<rect x="1268" y="677" width="1" height="17" fill="#c0c0c0"/>
<rect x="1276" y="677" width="1" height="17" fill="#c0c0c0"/>
<rect x="1284" y="677" width="1" height="18" fill="#c0c0c0"/>
<rect x="1292" y="677" width="1" height="14" fill="#c0c0c0"/>
<rect x="1300" y="677" width="1" height="10" fill="#c0c0c0"/>
<rect x="1308" y="677" width="1" height="9" fill="#c0c0c0"/>
<rect x="1316" y="677" width="1" height="8" fill="#c0c0c0"/>
<rect x="1324" y="677" width="1" height="6" fill="#c0c0c0"/>
<rect x="1332" y="677" width="1" height="3" fill="#c0c0c0"/>
<rect x="1340" y="677" width="1" height="6" fill="#c0c0c0"/>
<rect x="1348" y="677" width="1" height="11" fill="#c0c0c0"/>
<rect x="1356" y="677" width="1" height="11" fill="#c0c0c0"/>
<rect x="1364" y="677" width="1" height="10" fill="#c0c0c0"/>
<rect x="1372" y="677" width="1" height="12" fill="#c0c0c0"/>
<rect x="1380" y="677" width="1" height="12" fill="#c0c0c0"/>
<rect x="1388" y="677" width="1" height="13" fill="#c0c0c0"/>
<rect x="1396" y="677" width="1" height="16" fill="#c0c0c0"/>
<rect x="1404" y="677" width="1" height="15" fill="#c0c0c0"/>
<polyline points="0,726.5 6,728.5 13,730.5 20,732.5 38,732.5 53.1,731.8 62,730.8 70.8,726.6 79.7,723.1 88.5,716.9 97.4,710.7 106.3,702.7 115.1,695.6 124,686.8 132.8,677.9 141.7,670.5 150.5,662.9 159.4,656.7 168.2,653.1 177.1,650.5 185.9,647.5 194.8,645.7 203.6,643.4 212.5,641.1 221.4,639.3 230.2,638.1 239.1,638.1 247.9,640.4 256.8,643.4 265.6,646.9 274.5,654 283.3,660.2 290,665.3 295.3,669.7 300.6,674.1 307.7,677.7 316.6,683.9 325.4,687.8 334.3,691.3 343.1,694.5 352,696.6 360.8,699.4 369.7,700.7 378.5,701.9 387.4,701.9 396.3,701.2 410.4,700.1 417.5,698.4 428.1,694.5 440.5,689.2 449.4,685.6 458.2,681.2 467.1,677.1 475.9,673.2 484.8,669.3 493.6,664.4 502.5,660 511.4,657.3 520.2,654.6 529.1,653.4 537.9,652.3 546.8,652.9 555.6,654.6 564.5,656.4 573.3,657.3 580,658.4 597.7,657.2 606.6,656.3 615.4,653.8 624.3,651.5 633.1,648.5 642,644.9 650.8,640.9 659.7,635 668.5,630.8 677.4,624.9 686.3,619.1 695.1,614.8 704,612.5 712.8,607.2 721.7,605.4 730.5,604.6 748.2,604.6 757.1,605.4 774.8,606.7 792.5,609 810.2,609.9 819.1,610.4 836.8,610.2 845.6,609 854.5,606.7 863.3,604.2 872.2,601.5 878.9,598.6 887.7,595.7 896.6,592.5 905.4,590.4 914.3,589.5 926.7,589.5 932,591.3 940.8,593.1 949.7,595.4 958.5,597.8 967.4,600.7 976.3,601.9 985.1,603.1 994,605.4 1008.1,606.3 1020.5,609.5 1029.4,611.6 1040,614.3 1047.1,617 1055.9,621.4 1064.8,624.9 1073.6,630.2 1082.5,634.7 1091.4,640.9 1100.2,646.2 1109.1,655 1117.9,660.3 1126.8,666.5 1135.6,671.9 1144.5,676.3 1153.3,681.6 1162.2,685.1 1170.6,687.5 1195.4,687.8 1202.5,686 1213.1,683 1225.5,681.2 1230.8,680.1 1243.2,679.4 1252.1,680.1 1262.7,681.6 1269.8,683.7 1280.4,686.5 1291,689.5 1301.7,691.3 1310.5,692.5 1319.4,691.3 1337.1,688.6 1354.8,686.9 1372.5,686.5 1390.2,687.2 1399.1,688.6 1404,689" fill="none" stroke="#ff0000" stroke-width="1" stroke-dasharray="3,3"/>
</g>
<g shape-rendering="auto">
<line x1="1285" y1="688.5" x2="1405" y2="691" stroke="#ff0000" stroke-width="4"/>
<polygon points="1414,691.5 1403,685 1403,698" fill="#ff0000"/>
</g>
<line x1="1" y1="782.5" x2="1647" y2="782.5" stroke="#c0c0c0" stroke-dasharray="3,3"/>
<line x1="1" y1="833.5" x2="1647" y2="833.5" stroke="#c0c0c0" stroke-dasharray="3,3"/>
<line x1="1" y1="894.5" x2="1647" y2="894.5" stroke="#c0c0c0" stroke-dasharray="3,3"/>
<polyline points="0,870.6 4,872.4 12,874.1 20,860.3 28,863.3 36,857.1 44,843.5 52,850.6 60,849.3 68,840.5 76,831.1 84,814.3 92,806.3 100,808.1 108,808.1 116,805.4 124,808.1 132,817.5 140,811.6 148,815.5 156,814.3 164,821.4 172,813.4 180,805.4 188,802.4 196,803.3 204,807.2 212,799.2 220,809 228,828.4 236,846.1 244,841.7 252,838.2 260,840 268,850 276,853.2 284,853.2 292,854.5 300,851.1 308,843 316,847 324,840.5 332,849.7 340,855 348,849.3 356,860.3 364,854.1 372,834.6 380,832.9 388,834.1 396,834.1 404,839.1 412,828.4 420,820.5 428,826.3 436,824.5 444,824.4 452,821.4 460,820.5 468,813.4 476,804.5 484,807.2 492,806.3 500,804.2 508,822.8 516,831.6 524,835.2 532,827 540,825.4 548,826.7 556,834.1 564,824 572,813.4 580,814.3 588,811.3 596,808.2 604,810.5 612,808.2 620,796.3 628,798.1 636,797.2 644,785.7 652,782.7 660,783.4 668,777.4 676,794.5 684,793.3 692,795.4 700,801.1 708,792.2 716,790.5 724,798.1 732,808.2 740,803.4 748,799.3 756,800.4 764,797.5 772,802.5 780,799.3 788,794.5 796,793.3 804,789.2 812,795.1 820,797.2 828,794.5 836,789.2 844,782.1 852,775.6 860,775.6 868,781.3 876,779.5 884,790.1 892,789.2 900,791.5 908,802.1 916,799.3 924,799.3 932,796.3 940,796.3 948,785.7 956,790.1 964,793.3 972,789.2 980,787.4 988,812.2 996,820.2 1004,808.2 1012,806.4 1020,804.3 1028,807.8 1036,818.1 1044,818.1 1052,835.3 1060,832.3 1068,837 1076,828.2 1084,839.3 1092,838.3 1100,855.3 1108,856.5 1116,845 1124,841.5 1132,839.7 1140,845 1148,840.6 1156,841.5 1164,840.6 1172,833.1 1180,827.5 1188,820.7 1196,823.4 1204,828.2 1212,825.7 1220,832.2 1228,848.2 1236,853 1244,846.9 1252,845.5 1260,848.2 1268,849.1 1276,845.5 1284,847.3 1292,837.6 1300,834 1308,828.2 1316,829.6 1324,833.1 1332,821.6 1340,848.2 1348,851.2 1356,841.1 1364,840.8 1372,842.3 1380,842.3 1388,843.3 1396,853 1404,855.3" fill="none" stroke="#1e90ff" stroke-width="1"/>
<g shape-rendering="auto">
<line x1="1313" y1="827" x2="1402.3" y2="852.8" stroke="#ff0000" stroke-width="3.3"/><polygon points="1410,855 1399.1,856.8 1401.7,847.6" fill="#ff0000"/>
</g>
<rect x="0" y="19" width="1648" height="1" fill="#000"/>
<rect x="1647" y="19" width="1" height="902" fill="#000"/>
<rect x="0" y="572" width="1647" height="1" fill="#000"/>
<rect x="0" y="574" width="1647" height="1" fill="#000"/>
<rect x="0" y="744" width="1647" height="1" fill="#000"/>
<rect x="0" y="746" width="1647" height="1" fill="#000"/>
<rect x="0" y="920" width="1648" height="1" fill="#000"/>
<rect x="1693" y="16" width="1" height="922" fill="#e3e3e3"/>
<rect x="1648" y="41" width="3" height="1" fill="#000"/>
<text x="1653.5" y="45" font-size="10.5" fill="#000" textLength="32.00" lengthAdjust="spacingAndGlyphs">158.300</text>
<rect x="1648" y="74" width="3" height="1" fill="#000"/>
<text x="1653.5" y="78" font-size="10.5" fill="#000" textLength="32.00" lengthAdjust="spacingAndGlyphs">157.700</text>
<rect x="1648" y="107" width="3" height="1" fill="#000"/>
<text x="1653.5" y="111" font-size="10.5" fill="#000" textLength="32.00" lengthAdjust="spacingAndGlyphs">157.100</text>
<rect x="1648" y="140" width="3" height="1" fill="#000"/>
<text x="1653.5" y="144" font-size="10.5" fill="#000" textLength="32.00" lengthAdjust="spacingAndGlyphs">156.500</text>
<rect x="1648" y="173" width="3" height="1" fill="#000"/>
<text x="1653.5" y="177" font-size="10.5" fill="#000" textLength="32.00" lengthAdjust="spacingAndGlyphs">155.900</text>
<rect x="1648" y="206" width="3" height="1" fill="#000"/>
<text x="1653.5" y="210" font-size="10.5" fill="#000" textLength="32.00" lengthAdjust="spacingAndGlyphs">155.315</text>
<rect x="1648" y="239" width="3" height="1" fill="#000"/>
<text x="1653.5" y="243" font-size="10.5" fill="#000" textLength="32.00" lengthAdjust="spacingAndGlyphs">154.715</text>
<rect x="1648" y="272" width="3" height="1" fill="#000"/>
<text x="1653.5" y="276" font-size="10.5" fill="#000" textLength="31.34" lengthAdjust="spacingAndGlyphs">154.115</text>
<rect x="1648" y="305" width="3" height="1" fill="#000"/>
<text x="1653.5" y="309" font-size="10.5" fill="#000" textLength="32.00" lengthAdjust="spacingAndGlyphs">153.515</text>
<rect x="1648" y="338" width="3" height="1" fill="#000"/>
<text x="1653.5" y="342" font-size="10.5" fill="#000" textLength="32.00" lengthAdjust="spacingAndGlyphs">152.930</text>
<rect x="1648" y="371" width="3" height="1" fill="#000"/>
<text x="1653.5" y="375" font-size="10.5" fill="#000" textLength="32.00" lengthAdjust="spacingAndGlyphs">152.330</text>
<rect x="1648" y="404" width="3" height="1" fill="#000"/>
<text x="1653.5" y="408" font-size="10.5" fill="#000" textLength="32.00" lengthAdjust="spacingAndGlyphs">151.730</text>
<rect x="1648" y="437" width="3" height="1" fill="#000"/>
<text x="1653.5" y="441" font-size="10.5" fill="#000" textLength="32.00" lengthAdjust="spacingAndGlyphs">151.130</text>
<rect x="1648" y="470" width="3" height="1" fill="#000"/>
<text x="1653.5" y="474" font-size="10.5" fill="#000" textLength="32.00" lengthAdjust="spacingAndGlyphs">150.530</text>
<rect x="1648" y="503" width="3" height="1" fill="#000"/>
<text x="1653.5" y="507" font-size="10.5" fill="#000" textLength="32.00" lengthAdjust="spacingAndGlyphs">149.945</text>
<rect x="1648" y="536" width="3" height="1" fill="#000"/>
<text x="1653.5" y="540" font-size="10.5" fill="#000" textLength="32.00" lengthAdjust="spacingAndGlyphs">149.345</text>
<rect x="1648" y="569" width="3" height="1" fill="#000"/>
<text x="1653.5" y="573" font-size="10.5" fill="#000" textLength="32.00" lengthAdjust="spacingAndGlyphs">148.745</text>
<rect x="1649" y="129" width="41" height="11" fill="#ff0000"/>
<text x="1653.8" y="138" font-size="10.5" fill="#fff" textLength="32.00" lengthAdjust="spacingAndGlyphs">156.593</text>
<rect x="1649" y="148" width="41" height="11" fill="#ff0000"/>
<text x="1653.8" y="157" font-size="10.5" fill="#fff" textLength="32.00" lengthAdjust="spacingAndGlyphs">156.250</text>
<rect x="1649" y="176" width="41" height="11" fill="#000"/>
<text x="1653.8" y="184" font-size="10.5" fill="#fff" textLength="32.00" lengthAdjust="spacingAndGlyphs">155.759</text>
<rect x="1649" y="167" width="41" height="11" fill="#32cd32"/>
<text x="1653.8" y="176" font-size="10.5" fill="#fff" textLength="32.00" lengthAdjust="spacingAndGlyphs">155.907</text>
<rect x="1649" y="197" width="41" height="11" fill="#0000ff"/>
<text x="1653.8" y="206" font-size="10.5" fill="#fff" textLength="32.00" lengthAdjust="spacingAndGlyphs">155.365</text>
<rect x="1649" y="225" width="41" height="11" fill="#0000ff"/>
<text x="1653.8" y="234" font-size="10.5" fill="#fff" textLength="32.00" lengthAdjust="spacingAndGlyphs">154.859</text>
<rect x="1648" y="576" width="3" height="1" fill="#000"/>
<text x="1651.7" y="585" font-size="10.5" fill="#000" textLength="27.07" lengthAdjust="spacingAndGlyphs">1.0331</text>
<rect x="1648" y="677" width="3" height="1" fill="#000"/>
<text x="1651.2" y="681.5" font-size="10.5" fill="#000" textLength="17.23" lengthAdjust="spacingAndGlyphs">0.00</text>
<text x="1651.7" y="742" font-size="10.5" fill="#000" textLength="30.02" lengthAdjust="spacingAndGlyphs">-0.6696</text>
<rect x="1648" y="748" width="3" height="1" fill="#000"/>
<rect x="1648" y="782" width="3" height="1" fill="#000"/>
<rect x="1648" y="833" width="3" height="1" fill="#000"/>
<rect x="1648" y="894" width="3" height="1" fill="#000"/>
<rect x="1648" y="919" width="3" height="1" fill="#000"/>
<text x="1651.4" y="757" font-size="10.5" fill="#000" textLength="14.77" lengthAdjust="spacingAndGlyphs">100</text>
<text x="1650.8" y="786" font-size="10.5" fill="#000" textLength="9.85" lengthAdjust="spacingAndGlyphs">80</text>
<text x="1650.8" y="837" font-size="10.5" fill="#000" textLength="9.85" lengthAdjust="spacingAndGlyphs">50</text>
<text x="1650.8" y="898" font-size="10.5" fill="#000" textLength="9.85" lengthAdjust="spacingAndGlyphs">15</text>
<text x="1650.8" y="917" font-size="10.5" fill="#000" textLength="4.92" lengthAdjust="spacingAndGlyphs">0</text>
<text x="-13.333118124999999" y="933" font-size="10.5" fill="#000" textLength="51.93" lengthAdjust="spacingAndGlyphs">21 Sep 2021</text>
<rect x="52" y="921" width="1" height="3" fill="#000"/>
<text x="51.2" y="933" font-size="10.5" fill="#000" textLength="54.48" lengthAdjust="spacingAndGlyphs">22 Sep 16:00</text>
<rect x="116" y="921" width="1" height="3" fill="#000"/>
<text x="115.2" y="933" font-size="10.5" fill="#000" textLength="54.48" lengthAdjust="spacingAndGlyphs">24 Sep 00:00</text>
<rect x="180" y="921" width="1" height="3" fill="#000"/>
<text x="179.2" y="933" font-size="10.5" fill="#000" textLength="54.48" lengthAdjust="spacingAndGlyphs">27 Sep 08:00</text>
<rect x="244" y="921" width="1" height="3" fill="#000"/>
<text x="243.2" y="933" font-size="10.5" fill="#000" textLength="54.48" lengthAdjust="spacingAndGlyphs">28 Sep 16:00</text>
<rect x="308" y="921" width="1" height="3" fill="#000"/>
<text x="307.2" y="933" font-size="10.5" fill="#000" textLength="54.48" lengthAdjust="spacingAndGlyphs">30 Sep 00:00</text>
<rect x="372" y="921" width="1" height="3" fill="#000"/>
<text x="371.2" y="933" font-size="10.5" fill="#000" textLength="48.69" lengthAdjust="spacingAndGlyphs">1 Oct 08:00</text>
<rect x="436" y="921" width="1" height="3" fill="#000"/>
<text x="435.2" y="933" font-size="10.5" fill="#000" textLength="48.69" lengthAdjust="spacingAndGlyphs">4 Oct 16:00</text>
<rect x="500" y="921" width="1" height="3" fill="#000"/>
<text x="499.2" y="933" font-size="10.5" fill="#000" textLength="48.69" lengthAdjust="spacingAndGlyphs">6 Oct 00:00</text>
<rect x="564" y="921" width="1" height="3" fill="#000"/>
<text x="563.2" y="933" font-size="10.5" fill="#000" textLength="48.69" lengthAdjust="spacingAndGlyphs">7 Oct 08:00</text>
<rect x="628" y="921" width="1" height="3" fill="#000"/>
<text x="627.2" y="933" font-size="10.5" fill="#000" textLength="48.69" lengthAdjust="spacingAndGlyphs">8 Oct 16:00</text>
<rect x="692" y="921" width="1" height="3" fill="#000"/>
<text x="691.2" y="933" font-size="10.5" fill="#000" textLength="53.93" lengthAdjust="spacingAndGlyphs">12 Oct 00:00</text>
<rect x="756" y="921" width="1" height="3" fill="#000"/>
<text x="755.2" y="933" font-size="10.5" fill="#000" textLength="53.93" lengthAdjust="spacingAndGlyphs">13 Oct 08:00</text>
<rect x="820" y="921" width="1" height="3" fill="#000"/>
<text x="819.2" y="933" font-size="10.5" fill="#000" textLength="53.93" lengthAdjust="spacingAndGlyphs">14 Oct 16:00</text>
<rect x="884" y="921" width="1" height="3" fill="#000"/>
<text x="883.2" y="933" font-size="10.5" fill="#000" textLength="53.93" lengthAdjust="spacingAndGlyphs">18 Oct 00:00</text>
<rect x="948" y="921" width="1" height="3" fill="#000"/>
<text x="947.2" y="933" font-size="10.5" fill="#000" textLength="53.93" lengthAdjust="spacingAndGlyphs">19 Oct 08:00</text>
<rect x="1012" y="921" width="1" height="3" fill="#000"/>
<text x="1011.2" y="933" font-size="10.5" fill="#000" textLength="53.93" lengthAdjust="spacingAndGlyphs">20 Oct 16:00</text>
<rect x="1076" y="921" width="1" height="3" fill="#000"/>
<text x="1075.2" y="933" font-size="10.5" fill="#000" textLength="53.93" lengthAdjust="spacingAndGlyphs">22 Oct 00:00</text>
<rect x="1140" y="921" width="1" height="3" fill="#000"/>
<text x="1139.2" y="933" font-size="10.5" fill="#000" textLength="53.93" lengthAdjust="spacingAndGlyphs">25 Oct 08:00</text>
<rect x="1204" y="921" width="1" height="3" fill="#000"/>
<text x="1203.2" y="933" font-size="10.5" fill="#000" textLength="53.93" lengthAdjust="spacingAndGlyphs">26 Oct 16:00</text>
<rect x="1268" y="921" width="1" height="3" fill="#000"/>
<text x="1267.2" y="933" font-size="10.5" fill="#000" textLength="53.93" lengthAdjust="spacingAndGlyphs">28 Oct 00:00</text>
<rect x="1332" y="921" width="1" height="3" fill="#000"/>
<text x="1331.2" y="933" font-size="10.5" fill="#000" textLength="53.93" lengthAdjust="spacingAndGlyphs">29 Oct 08:00</text>
<rect x="1396" y="921" width="1" height="3" fill="#000"/>
<text x="1395.2" y="933" font-size="10.5" fill="#000" textLength="50.79" lengthAdjust="spacingAndGlyphs">1 Nov 16:00</text>
<text x="3" y="31" font-size="10.5" fill="#000" textLength="200.00" lengthAdjust="spacingAndGlyphs">GBPJPY-,H4  155.762 155.774 155.668 155.759</text>
<text x="-6.549835078125" y="587" font-size="10.5" fill="#000" textLength="132.21" lengthAdjust="spacingAndGlyphs">MACD(12,26,9) -0.1911 -0.1288</text>
<text x="-8.709315234374998" y="759" font-size="10.5" fill="#000" textLength="68.19" lengthAdjust="spacingAndGlyphs">RSI(14) 38.2073</text>
<rect x="0" y="0" width="1694" height="15" fill="#f0f0f0"/>
<rect x="0" y="14" width="1694" height="1" fill="#e6e6e6"/>
<rect x="0" y="15" width="1694" height="1" fill="#a8a8a8"/>
<rect x="0" y="16" width="1694" height="1" fill="#6a6a6a"/>
<defs><pattern id="chk" width="2" height="2" patternUnits="userSpaceOnUse"><rect width="2" height="2" fill="#f4f4f4"/><rect width="1" height="1" fill="#e2e2e2"/><rect x="1" y="1" width="1" height="1" fill="#e2e2e2"/></pattern></defs>
<rect x="283" y="0" width="24" height="13" fill="url(#chk)"/>
<rect x="435" y="0" width="24" height="13" fill="url(#chk)"/>
<rect x="463" y="0" width="24" height="13" fill="url(#chk)"/>
<rect x="623" y="0" width="25" height="13" fill="url(#chk)"/>
<rect x="1069" y="0" width="24" height="13" fill="url(#chk)"/>
<rect x="8" y="0" width="1" height="13" fill="#a0a0a0"/>
<rect x="9" y="0" width="1" height="13" fill="#fcfcfc"/>
<rect x="244" y="0" width="1" height="13" fill="#a0a0a0"/>
<rect x="245" y="0" width="1" height="13" fill="#fcfcfc"/>
<rect x="282" y="0" width="1" height="13" fill="#a0a0a0"/>
<rect x="283" y="0" width="1" height="13" fill="#fcfcfc"/>
<rect x="339" y="0" width="1" height="13" fill="#a0a0a0"/>
<rect x="340" y="0" width="1" height="13" fill="#fcfcfc"/>
<rect x="429" y="0" width="1" height="13" fill="#a0a0a0"/>
<rect x="430" y="0" width="1" height="13" fill="#fcfcfc"/>
<rect x="434" y="0" width="1" height="13" fill="#a0a0a0"/>
<rect x="435" y="0" width="1" height="13" fill="#fcfcfc"/>
<rect x="462" y="0" width="1" height="13" fill="#a0a0a0"/>
<rect x="463" y="0" width="1" height="13" fill="#fcfcfc"/>
<rect x="491" y="0" width="1" height="13" fill="#a0a0a0"/>
<rect x="492" y="0" width="1" height="13" fill="#fcfcfc"/>
<rect x="612" y="0" width="1" height="13" fill="#a0a0a0"/>
<rect x="613" y="0" width="1" height="13" fill="#fcfcfc"/>
<rect x="622" y="0" width="1" height="13" fill="#a0a0a0"/>
<rect x="623" y="0" width="1" height="13" fill="#fcfcfc"/>
<rect x="679" y="0" width="1" height="13" fill="#a0a0a0"/>
<rect x="680" y="0" width="1" height="13" fill="#fcfcfc"/>
<rect x="918" y="0" width="1" height="13" fill="#a0a0a0"/>
<rect x="919" y="0" width="1" height="13" fill="#fcfcfc"/>
<rect x="1068" y="0" width="1" height="13" fill="#a0a0a0"/>
<rect x="1069" y="0" width="1" height="13" fill="#fcfcfc"/>
<rect x="1179" y="0" width="1" height="13" fill="#a0a0a0"/>
<rect x="1180" y="0" width="1" height="13" fill="#fcfcfc"/>
<rect x="248" y="1" width="3" height="1" fill="#b8b8b8"/>
<rect x="248" y="3" width="3" height="1" fill="#b8b8b8"/>
<rect x="248" y="5" width="3" height="1" fill="#b8b8b8"/>
<rect x="248" y="7" width="3" height="1" fill="#b8b8b8"/>
<rect x="248" y="9" width="3" height="1" fill="#b8b8b8"/>
<rect x="248" y="11" width="3" height="1" fill="#b8b8b8"/>
<rect x="616" y="1" width="3" height="1" fill="#b8b8b8"/>
<rect x="616" y="3" width="3" height="1" fill="#b8b8b8"/>
<rect x="616" y="5" width="3" height="1" fill="#b8b8b8"/>
<rect x="616" y="7" width="3" height="1" fill="#b8b8b8"/>
<rect x="616" y="9" width="3" height="1" fill="#b8b8b8"/>
<rect x="616" y="11" width="3" height="1" fill="#b8b8b8"/>
<rect x="923" y="1" width="3" height="1" fill="#b8b8b8"/>
<rect x="923" y="3" width="3" height="1" fill="#b8b8b8"/>
<rect x="923" y="5" width="3" height="1" fill="#b8b8b8"/>
<rect x="923" y="7" width="3" height="1" fill="#b8b8b8"/>
<rect x="923" y="9" width="3" height="1" fill="#b8b8b8"/>
<rect x="923" y="11" width="3" height="1" fill="#b8b8b8"/>
<rect x="0" y="9" width="1" height="2" fill="#e0b060"/>
<rect x="18.5" y="-1.5" width="11" height="10" fill="#fff" stroke="#808080"/>
<rect x="20" y="1" width="6" height="1" fill="#909090"/>
<rect x="20" y="3" width="5" height="1" fill="#909090"/>
<rect x="20" y="5" width="3" height="1" fill="#909090"/>
<path d="M26 1 h4 v4 h4 v4 h-4 v4 h-4 v-4 h-4 v-4 h4 z" fill="#22d022" stroke="#0a7a0a" stroke-width="1"/><rect x="27" y="2" width="2" height="4" fill="#80ff80"/>
<g shape-rendering="auto">
<line x1="37" y1="1" x2="42" y2="1" stroke="#111" stroke-width="1.2"/><line x1="39.5" y1="0" x2="39.5" y2="7" stroke="#111" stroke-width="1.2"/><line x1="39.5" y1="4" x2="37" y2="6.5" stroke="#111" stroke-width="1.2"/><line x1="39.5" y1="4" x2="41.5" y2="6" stroke="#111" stroke-width="1.2"/><line x1="43" y1="2" x2="47" y2="2" stroke="#111" stroke-width="1.2"/><line x1="45" y1="2" x2="45" y2="7" stroke="#111" stroke-width="1.2"/><line x1="43" y1="0" x2="43" y2="5" stroke="#111" stroke-width="1.2"/><line x1="43" y1="5" x2="42" y2="7" stroke="#111" stroke-width="1.2"/>
<line x1="47" y1="0" x2="48.5" y2="1.5" stroke="#111" stroke-width="1.2"/><line x1="48.5" y1="3" x2="48.5" y2="6.5" stroke="#111" stroke-width="1.2"/><line x1="48.5" y1="6.5" x2="50" y2="5.5" stroke="#111" stroke-width="1.2"/><line x1="51" y1="1" x2="58" y2="1" stroke="#111" stroke-width="1.2"/><line x1="55" y1="1" x2="55" y2="7" stroke="#111" stroke-width="1.2"/><line x1="55" y1="7" x2="53" y2="6" stroke="#111" stroke-width="1.2"/>
<line x1="61" y1="0" x2="61" y2="3" stroke="#111" stroke-width="1.2"/><line x1="71" y1="0" x2="71" y2="3" stroke="#111" stroke-width="1.2"/><line x1="61" y1="2.5" x2="71" y2="2.5" stroke="#111" stroke-width="1.2"/><line x1="60" y1="4.5" x2="73" y2="4.5" stroke="#111" stroke-width="1.2"/><line x1="66.5" y1="0" x2="66.5" y2="7.5" stroke="#111" stroke-width="1.2"/>
<line x1="190.5" y1="0" x2="190.5" y2="7" stroke="#111" stroke-width="1.2"/><line x1="198.5" y1="0" x2="198.5" y2="7" stroke="#111" stroke-width="1.2"/><line x1="190.5" y1="2.5" x2="198.5" y2="2.5" stroke="#111" stroke-width="1.2"/><line x1="190.5" y1="5.5" x2="198.5" y2="5.5" stroke="#111" stroke-width="1.2"/>
<line x1="201.5" y1="1" x2="205.5" y2="1" stroke="#111" stroke-width="1.2"/><line x1="201.5" y1="6" x2="204" y2="3.5" stroke="#111" stroke-width="1.2"/><line x1="204" y1="3.5" x2="205.5" y2="6" stroke="#111" stroke-width="1.2"/><line x1="206" y1="2" x2="211" y2="2" stroke="#111" stroke-width="1.2"/><line x1="210.5" y1="2" x2="210.5" y2="7" stroke="#111" stroke-width="1.2"/><line x1="210.5" y1="7" x2="209" y2="6.5" stroke="#111" stroke-width="1.2"/><line x1="208" y1="0" x2="207" y2="7" stroke="#111" stroke-width="1.2"/>
<line x1="213.5" y1="1" x2="224.5" y2="1" stroke="#111" stroke-width="1.2"/><line x1="215" y1="4.5" x2="216.5" y2="2.5" stroke="#111" stroke-width="1.2"/><line x1="223" y1="4.5" x2="221.5" y2="2.5" stroke="#111" stroke-width="1.2"/><line x1="216" y1="3.5" x2="222.5" y2="7.5" stroke="#111" stroke-width="1.2"/><line x1="222" y1="3.5" x2="214" y2="7.5" stroke="#111" stroke-width="1.2"/>
<line x1="227" y1="0" x2="227" y2="2" stroke="#111" stroke-width="1.2"/><line x1="235" y1="0" x2="235" y2="2" stroke="#111" stroke-width="1.2"/><line x1="227" y1="1.5" x2="235" y2="1.5" stroke="#111" stroke-width="1.2"/><line x1="226" y1="3.5" x2="236.5" y2="3.5" stroke="#111" stroke-width="1.2"/><line x1="236" y1="3.5" x2="235" y2="7.5" stroke="#111" stroke-width="1.2"/><line x1="235" y1="7.5" x2="233.5" y2="7" stroke="#111" stroke-width="1.2"/><line x1="229" y1="3.5" x2="226.5" y2="7" stroke="#111" stroke-width="1.2"/><line x1="231.5" y1="4" x2="229" y2="7" stroke="#111" stroke-width="1.2"/><line x1="234" y1="4" x2="231.5" y2="7" stroke="#111" stroke-width="1.2"/>
</g>
<defs><linearGradient id="gold" x1="0" y1="0" x2="1" y2="1"><stop offset="0" stop-color="#f8d830"/><stop offset="1" stop-color="#d09818"/></linearGradient><linearGradient id="cloudg" x1="0" y1="0" x2="0" y2="1"><stop offset="0" stop-color="#ffffff"/><stop offset="1" stop-color="#b8c4dc"/></linearGradient></defs>
<g shape-rendering="auto"><polygon points="88.5,-1 97.5,-1 100.5,5.3 92.8,10.8 85.2,5" fill="url(#gold)" stroke="#a8680c" stroke-width="1"/><line x1="86.5" y1="5.5" x2="92.5" y2="9.2" stroke="#f8e8a0" stroke-width="1"/><line x1="93.5" y1="9.5" x2="99.5" y2="5" stroke="#c8b070" stroke-width="1.2"/></g>
<rect x="115" y="0" width="11" height="4" fill="#1a8ae8"/>
<rect x="119" y="0" width="2" height="4" fill="#e8f4ff"/>
<rect x="122" y="0" width="3" height="1" fill="#e8f4ff"/>
<g shape-rendering="auto"><path d="M114 10.3 C112.5 10.3 112.5 6.8 115 6.5 C115.5 4 119 3.3 120.5 5 C121.5 3 125 3.3 125.5 5.8 C128.5 5.8 128.8 10.3 126.5 10.3 Z" fill="url(#cloudg)" stroke="#4a6090" stroke-width="1"/></g>
<g shape-rendering="auto"><path d="M149 3 L149 11 A8 8 0 0 0 157 3 Z" fill="#b8dcb0"/><path d="M149 3 L149 8 A5 5 0 0 0 154 3 Z" fill="#d8ecd0"/><path d="M149 10.5 A7.5 7.5 0 0 1 141.5 3" fill="none" stroke="#7090d8" stroke-width="1" stroke-dasharray="2,1"/><path d="M149 7.5 A4.5 4.5 0 0 1 144.5 3" fill="none" stroke="#7090d8" stroke-width="1" stroke-dasharray="2,1"/><path d="M141.5 3 A7.5 7.5 0 0 1 156.5 3" fill="none" stroke="#6a8ad8" stroke-width="1"/><path d="M149 10.5 A7.5 7.5 0 0 0 156.5 3" fill="none" stroke="#50a060" stroke-width="1"/><circle cx="149" cy="2.8" r="2" fill="#2050c8"/><line x1="149.3" y1="3" x2="149.3" y2="11" stroke="#20a020" stroke-width="1.4"/></g>
<g shape-rendering="auto"><rect x="168" y="-2" width="16" height="4.5" rx="2" fill="#48a8e0"/><polygon points="168,3 184,3 176,11" fill="#f4e060" stroke="#c89818" stroke-width="0.8"/><circle cx="180.5" cy="6.5" r="4.3" fill="#e02808" stroke="#a01000" stroke-width="0.8"/></g>
<rect x="179" y="5" width="3" height="3" fill="#fff"/>
<rect x="262" y="0" width="1" height="11" fill="#555"/><rect x="260" y="8" width="13" height="1" fill="#555"/><polygon points="272,6 275,8.5 272,11" fill="#555"/>
<rect x="268" y="0" width="1" height="7" fill="#0a8a0a"/>
<rect x="266" y="5" width="2" height="1" fill="#0a8a0a"/>
<rect x="290" y="0" width="1" height="11" fill="#555"/><rect x="288" y="8" width="13" height="1" fill="#555"/><polygon points="300,6 303,8.5 300,11" fill="#555"/>
<rect x="294" y="0" width="5" height="5" fill="#0a9a0a"/>
<rect x="295" y="0" width="3" height="4" fill="#40e040"/>
<rect x="296" y="5" width="1" height="2" fill="#0a8a0a"/>
<rect x="318" y="0" width="1" height="11" fill="#555"/><rect x="316" y="8" width="13" height="1" fill="#555"/><polygon points="328,6 331,8.5 328,11" fill="#555"/>
<polyline points="317,5.5 323,0 328.5,4" fill="none" stroke="#20a020" stroke-width="1" shape-rendering="auto"/>
<g shape-rendering="auto">
<line x1="358" y1="5.5" x2="363" y2="10" stroke="#a87808" stroke-width="3.2"/>
<line x1="358" y1="5.5" x2="363" y2="10" stroke="#f0d040" stroke-width="1.6"/>
<circle cx="354" cy="0.5" r="5.5" fill="#d8f0fc" stroke="#2a78c8" stroke-width="1.3"/>
<rect x="351" y="-1" width="6" height="2" fill="#4a90b0"/>
<rect x="353" y="-3" width="2" height="6" fill="#4a90b0"/>
<line x1="386" y1="5.5" x2="391" y2="10" stroke="#a87808" stroke-width="3.2"/>
<line x1="386" y1="5.5" x2="391" y2="10" stroke="#f0d040" stroke-width="1.6"/>
<circle cx="382" cy="0.5" r="5.5" fill="#d8f0fc" stroke="#2a78c8" stroke-width="1.3"/>
<rect x="379" y="-1" width="6" height="2" fill="#4a90b0"/>
</g>
<rect x="404" y="0" width="8" height="3" fill="#30a020"/>
<rect x="412" y="0" width="8" height="3" fill="#2858d0"/>
<rect x="404" y="3" width="8" height="8" fill="#2858d0"/>
<rect x="412" y="3" width="8" height="8" fill="#30a020"/>
<rect x="405" y="0" width="6" height="1" fill="#ffffff"/>
<rect x="413" y="0" width="6" height="1" fill="#ffffff"/>
<rect x="405" y="6" width="6" height="3" fill="#ffffff"/>
<rect x="413" y="6" width="6" height="3" fill="#ffffff"/>
<rect x="406" y="7" width="1" height="1" fill="#2858d0"/>
<rect x="408" y="7" width="2" height="1" fill="#2858d0"/>
<rect x="414" y="7" width="4" height="1" fill="#30a020"/>
<rect x="442" y="0" width="1" height="11" fill="#555"/><rect x="440" y="8" width="13" height="1" fill="#555"/><polygon points="452,6 455,8.5 452,11" fill="#555"/>
<polygon points="447,0 451,2.5 447,5.5" fill="#30d030" stroke="#10a010" stroke-width="0.8" shape-rendering="auto"/>
<rect x="470" y="0" width="1" height="11" fill="#555"/><rect x="468" y="8" width="13" height="1" fill="#555"/><polygon points="480,6 483,8.5 480,11" fill="#555"/>
<rect x="476" y="0" width="1" height="7" fill="#1a70b0"/>
<polygon points="477,2.5 481,0 480,2.5 481,5" fill="#e85010" shape-rendering="auto"/>
<rect x="501.5" y="-1.5" width="10" height="10" fill="#fff" stroke="#808080"/>
<rect x="503" y="0" width="1" height="4" fill="#555"/>
<path d="M509 1 h4 v4 h4 v4 h-4 v4 h-4 v-4 h-4 v-4 h4 z" fill="#22d022" stroke="#0a7a0a" stroke-width="1"/><rect x="510" y="2" width="2" height="4" fill="#80ff80"/>
<polygon points="523,2 528,2 525.5,4.5" fill="#111" shape-rendering="auto"/>
<g shape-rendering="auto"><circle cx="547" cy="3" r="6.5" fill="#f4f6fa" stroke="#1a5cc8" stroke-width="2"/><line x1="547" y1="3" x2="547" y2="-1" stroke="#333"/><line x1="547" y1="3" x2="550" y2="3" stroke="#333"/></g>
<polygon points="562,2 567,2 564.5,4.5" fill="#111" shape-rendering="auto"/>
<rect x="579.5" y="-1.5" width="14" height="11" fill="#fff" stroke="#3a70c0"/>
<polyline points="581,2 584,1 587,1.5 592,0" fill="none" stroke="#c04020" shape-rendering="auto"/>
<rect x="580" y="4" width="13" height="1" fill="#3a70c0"/>
<polyline points="581,8 584,6 587,7 592,5" fill="none" stroke="#20a020" shape-rendering="auto"/>
<polygon points="601,2 606,2 603.5,4.5" fill="#111" shape-rendering="auto"/>
<polygon points="630,-1 630,7 632,5 634.5,9.5 636,8.5 634,4.5 637,4.5" fill="#222" shape-rendering="auto"/>
<rect x="655" y="3" width="15" height="1" fill="#444"/>
<rect x="662" y="0" width="1" height="11" fill="#444"/>
<rect x="662" y="3" width="1" height="1" fill="#f0f0f0"/>
<rect x="697" y="0" width="1" height="10" fill="#444"/>
<rect x="719" y="3" width="12" height="1" fill="#444"/>
<line x1="747" y1="10" x2="757" y2="0" stroke="#444" stroke-width="1" shape-rendering="auto"/>
<g stroke="#444" fill="none" shape-rendering="auto"><line x1="773.5" y1="5" x2="779" y2="0"/><line x1="774" y1="9" x2="783" y2="0"/><line x1="776" y1="10" x2="785" y2="1"/></g>
<text x="783" y="11.5" font-size="6" fill="#444" font-weight="bold">E</text>
<rect x="802" y="3" width="1" height="1" fill="#444"/>
<rect x="804" y="3" width="1" height="1" fill="#444"/>
<rect x="806" y="3" width="1" height="1" fill="#444"/>
<rect x="808" y="3" width="1" height="1" fill="#444"/>
<rect x="810" y="3" width="1" height="1" fill="#444"/>
<rect x="812" y="3" width="1" height="1" fill="#444"/>
<rect x="814" y="3" width="1" height="1" fill="#444"/>
<rect x="802" y="7" width="1" height="1" fill="#444"/>
<rect x="804" y="7" width="1" height="1" fill="#444"/>
<rect x="806" y="7" width="1" height="1" fill="#444"/>
<rect x="808" y="7" width="1" height="1" fill="#444"/>
<rect x="810" y="7" width="1" height="1" fill="#444"/>
<rect x="812" y="7" width="1" height="1" fill="#444"/>
<rect x="814" y="7" width="1" height="1" fill="#444"/>
<text x="811.5" y="12" font-size="6" fill="#444" font-weight="bold">F</text>
<text x="832.5" y="8" font-size="10" fill="#444" font-weight="bold">A</text>
<rect x="859.5" y="-0.5" width="11" height="10" fill="none" stroke="#666" stroke-dasharray="1,1"/>
<text x="861.5" y="7.5" font-size="10" fill="#444" font-weight="bold">T</text>
<polyline points="887,3 890,6 895,0" fill="none" stroke="#333" stroke-width="1.5" shape-rendering="auto"/>
<polygon points="889,0 892,0 890.5,2" fill="#333" shape-rendering="auto"/>
<polygon points="894,5 899,5 896.5,8" fill="#333" shape-rendering="auto"/>
<polygon points="907,2 912,2 909.5,4.5" fill="#111" shape-rendering="auto"/>
<text x="934" y="6.5" font-size="10" fill="#333" textLength="13.00" lengthAdjust="spacingAndGlyphs">M1</text>
<text x="962" y="6.5" font-size="10" fill="#333" textLength="13.00" lengthAdjust="spacingAndGlyphs">M5</text>
<text x="987.5" y="6.5" font-size="10" fill="#333" textLength="18.00" lengthAdjust="spacingAndGlyphs">M15</text>
<text x="1016" y="6.5" font-size="10" fill="#333" textLength="17.50" lengthAdjust="spacingAndGlyphs">M30</text>
<text x="1046.5" y="6.5" font-size="10" fill="#333" textLength="11.50" lengthAdjust="spacingAndGlyphs">H1</text>
<text x="1073.5" y="6.5" font-size="10" fill="#333" textLength="12.50" lengthAdjust="spacingAndGlyphs">H4</text>
<text x="1102.5" y="6.5" font-size="10" fill="#333" textLength="11.50" lengthAdjust="spacingAndGlyphs">D1</text>
<text x="1130" y="6.5" font-size="10" fill="#333" textLength="14.00" lengthAdjust="spacingAndGlyphs">W1</text>
<text x="1156.5" y="6.5" font-size="10" fill="#333" textLength="15.00" lengthAdjust="spacingAndGlyphs">MN</text>
<g shape-rendering="auto"><circle cx="1649.5" cy="0.5" r="4" fill="none" stroke="#2a6ad8" stroke-width="1.5"/><line x1="1646.5" y1="4" x2="1642.5" y2="8" stroke="#1a4ac8" stroke-width="2.2"/><ellipse cx="1672.5" cy="4" rx="6.5" ry="5" fill="#e0e2ea" stroke="#b0b4bc"/><polygon points="1668,8 1669,12 1672,8.5" fill="#b0b4bc"/><circle cx="1680.5" cy="0.4" r="8.3" fill="#dc3014"/></g>
<rect x="1680" y="-1" width="1.5" height="5" fill="#fff"/>
<rect x="1677.5" y="4" width="5.5" height="1" fill="#fff"/>
<polygon points="25.5,32 27,33.5 25.5,35 24,33.5" fill="none" stroke="#000" stroke-width="0.7" shape-rendering="auto"/>
</svg>
</body></html>
